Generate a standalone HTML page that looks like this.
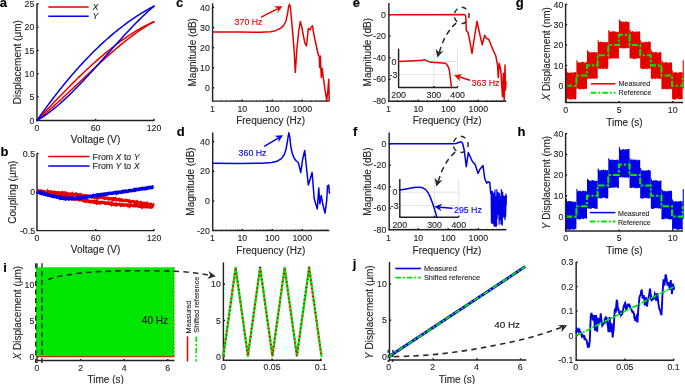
<!DOCTYPE html>
<html><head><meta charset="utf-8"><style>
html,body{margin:0;padding:0;background:#fff;width:685px;height:384px;overflow:hidden}
svg{display:block;font-family:"Liberation Sans",sans-serif;will-change:transform}
text{stroke:currentColor;stroke-width:0.12px}
</style></head><body>
<svg xmlns="http://www.w3.org/2000/svg" width="685" height="384" viewBox="0 0 685 384">
<rect width="685" height="384" fill="#fff"/>
<text x="-0.36" y="7.1" font-size="13" fill="#000" color="#000" font-weight="bold">a</text>
<line x1="37" y1="3.6" x2="37" y2="120.9" stroke="#222" stroke-width="1.45"/>
<line x1="36.5" y1="120.4" x2="154.5" y2="120.4" stroke="#222" stroke-width="1.45"/>
<line x1="37" y1="97.08" x2="38.6" y2="97.08" stroke="#222" stroke-width="1.45"/>
<line x1="37" y1="73.76" x2="38.6" y2="73.76" stroke="#222" stroke-width="1.45"/>
<line x1="37" y1="50.44" x2="38.6" y2="50.44" stroke="#222" stroke-width="1.45"/>
<line x1="37" y1="27.12" x2="38.6" y2="27.12" stroke="#222" stroke-width="1.45"/>
<line x1="37" y1="3.8" x2="38.6" y2="3.8" stroke="#222" stroke-width="1.45"/>
<line x1="95.6" y1="120.4" x2="95.6" y2="118.8" stroke="#222" stroke-width="1.45"/>
<line x1="154" y1="120.4" x2="154" y2="118.8" stroke="#222" stroke-width="1.45"/>
<text x="34.3" y="123.57" font-size="8.8" fill="#262626" color="#262626" text-anchor="end">0</text>
<text x="34.3" y="100.25" font-size="8.8" fill="#262626" color="#262626" text-anchor="end">5</text>
<text x="34.3" y="76.93" font-size="8.8" fill="#262626" color="#262626" text-anchor="end">10</text>
<text x="34.3" y="53.61" font-size="8.8" fill="#262626" color="#262626" text-anchor="end">15</text>
<text x="34.3" y="30.29" font-size="8.8" fill="#262626" color="#262626" text-anchor="end">20</text>
<text x="34.3" y="6.97" font-size="8.8" fill="#262626" color="#262626" text-anchor="end">25</text>
<text x="37" y="130.67" font-size="8.8" fill="#262626" color="#262626" text-anchor="middle">0</text>
<text x="95.6" y="130.67" font-size="8.8" fill="#262626" color="#262626" text-anchor="middle">60</text>
<text x="154" y="130.67" font-size="8.8" fill="#262626" color="#262626" text-anchor="middle">120</text>
<text x="95.6" y="142.6" font-size="10" fill="#262626" color="#262626" text-anchor="middle">Voltage (V)</text>
<text x="21" y="62.2" font-size="10" fill="#262626" color="#262626" text-anchor="middle" transform="rotate(-90 21 62.2)">Displacement (µm)</text>
<line x1="48.3" y1="7" x2="88.7" y2="7" stroke="#e50000" stroke-width="1.5"/>
<line x1="48.3" y1="16.2" x2="88.7" y2="16.2" stroke="#0000e6" stroke-width="1.5"/>
<text x="92.4" y="10" font-size="8.8" fill="#262626" color="#262626" font-style="italic">X</text>
<text x="92.4" y="19.2" font-size="8.8" fill="#262626" color="#262626" font-style="italic">Y</text>
<path d="M37 120.4 L38.46 118.83 L39.92 117.27 L41.39 115.71 L42.85 114.15 L44.31 112.59 L45.77 111.04 L47.24 109.49 L48.7 107.94 L50.16 106.39 L51.62 104.85 L53.09 103.32 L54.55 101.78 L56.01 100.26 L57.47 98.73 L58.94 97.22 L60.4 95.7 L61.86 94.2 L63.33 92.7 L64.79 91.2 L66.25 89.71 L67.71 88.23 L69.18 86.76 L70.64 85.29 L72.1 83.83 L73.56 82.38 L75.03 80.93 L76.49 79.5 L77.95 78.07 L79.41 76.65 L80.88 75.24 L82.34 73.84 L83.8 72.44 L85.26 71.06 L86.72 69.69 L88.19 68.33 L89.65 66.98 L91.11 65.64 L92.57 64.31 L94.04 62.99 L95.5 61.68 L96.96 60.38 L98.43 59.1 L99.89 57.83 L101.35 56.57 L102.81 55.32 L104.27 54.09 L105.74 52.87 L107.2 51.66 L108.66 50.47 L110.12 49.29 L111.59 48.13 L113.05 46.98 L114.51 45.84 L115.98 44.72 L117.44 43.62 L118.9 42.53 L120.36 41.46 L121.83 40.4 L123.29 39.36 L124.75 38.33 L126.21 37.33 L127.67 36.33 L129.14 35.36 L130.6 34.41 L132.06 33.47 L133.52 32.55 L134.99 31.65 L136.45 30.76 L137.91 29.9 L139.38 29.05 L140.84 28.23 L142.3 27.42 L143.76 26.64 L145.23 25.87 L146.69 25.12 L148.15 24.4 L149.61 23.69 L151.07 23.01 L152.54 22.35 L154 21.71" fill="none" stroke="#e50000" stroke-width="1.5" stroke-linejoin="round" stroke-linecap="round"/>
<path d="M37 120.4 L38.46 119.21 L39.92 118 L41.39 116.79 L42.85 115.56 L44.31 114.32 L45.77 113.07 L47.24 111.8 L48.7 110.53 L50.16 109.25 L51.62 107.96 L53.09 106.65 L54.55 105.34 L56.01 104.03 L57.47 102.7 L58.94 101.37 L60.4 100.03 L61.86 98.69 L63.33 97.33 L64.79 95.98 L66.25 94.62 L67.71 93.25 L69.18 91.88 L70.64 90.51 L72.1 89.13 L73.56 87.76 L75.03 86.38 L76.49 85 L77.95 83.61 L79.41 82.23 L80.88 80.85 L82.34 79.46 L83.8 78.08 L85.26 76.7 L86.72 75.32 L88.19 73.94 L89.65 72.57 L91.11 71.2 L92.57 69.83 L94.04 68.47 L95.5 67.11 L96.96 65.75 L98.43 64.4 L99.89 63.06 L101.35 61.72 L102.81 60.39 L104.27 59.07 L105.74 57.76 L107.2 56.45 L108.66 55.15 L110.12 53.86 L111.59 52.58 L113.05 51.31 L114.51 50.05 L115.98 48.8 L117.44 47.57 L118.9 46.34 L120.36 45.13 L121.83 43.93 L123.29 42.74 L124.75 41.57 L126.21 40.41 L127.67 39.27 L129.14 38.14 L130.6 37.03 L132.06 35.93 L133.52 34.85 L134.99 33.78 L136.45 32.74 L137.91 31.71 L139.38 30.7 L140.84 29.71 L142.3 28.74 L143.76 27.78 L145.23 26.85 L146.69 25.94 L148.15 25.05 L149.61 24.18 L151.07 23.34 L152.54 22.51 L154 21.71" fill="none" stroke="#e50000" stroke-width="1.5" stroke-linejoin="round" stroke-linecap="round"/>
<path d="M37 120.4 L38.46 118.31 L39.92 116.23 L41.39 114.18 L42.85 112.14 L44.31 110.11 L45.77 108.1 L47.24 106.11 L48.7 104.14 L50.16 102.18 L51.62 100.24 L53.09 98.32 L54.55 96.41 L56.01 94.52 L57.47 92.65 L58.94 90.79 L60.4 88.95 L61.86 87.13 L63.33 85.32 L64.79 83.54 L66.25 81.76 L67.71 80.01 L69.18 78.27 L70.64 76.55 L72.1 74.84 L73.56 73.15 L75.03 71.48 L76.49 69.83 L77.95 68.19 L79.41 66.57 L80.88 64.96 L82.34 63.37 L83.8 61.8 L85.26 60.25 L86.72 58.71 L88.19 57.19 L89.65 55.69 L91.11 54.2 L92.57 52.73 L94.04 51.28 L95.5 49.84 L96.96 48.42 L98.43 47.02 L99.89 45.63 L101.35 44.26 L102.81 42.91 L104.27 41.57 L105.74 40.25 L107.2 38.95 L108.66 37.66 L110.12 36.4 L111.59 35.14 L113.05 33.91 L114.51 32.69 L115.98 31.49 L117.44 30.3 L118.9 29.13 L120.36 27.98 L121.83 26.85 L123.29 25.73 L124.75 24.63 L126.21 23.54 L127.67 22.48 L129.14 21.43 L130.6 20.39 L132.06 19.38 L133.52 18.38 L134.99 17.39 L136.45 16.42 L137.91 15.47 L139.38 14.54 L140.84 13.62 L142.3 12.73 L143.76 11.84 L145.23 10.98 L146.69 10.13 L148.15 9.29 L149.61 8.48 L151.07 7.68 L152.54 6.9 L154 6.13" fill="none" stroke="#0000e6" stroke-width="1.5" stroke-linejoin="round" stroke-linecap="round"/>
<path d="M37 120.4 L38.46 119.55 L39.92 118.67 L41.39 117.76 L42.85 116.82 L44.31 115.84 L45.77 114.83 L47.24 113.79 L48.7 112.73 L50.16 111.63 L51.62 110.51 L53.09 109.35 L54.55 108.18 L56.01 106.97 L57.47 105.74 L58.94 104.49 L60.4 103.21 L61.86 101.91 L63.33 100.59 L64.79 99.25 L66.25 97.89 L67.71 96.5 L69.18 95.1 L70.64 93.68 L72.1 92.24 L73.56 90.78 L75.03 89.31 L76.49 87.82 L77.95 86.32 L79.41 84.8 L80.88 83.27 L82.34 81.73 L83.8 80.18 L85.26 78.61 L86.72 77.04 L88.19 75.45 L89.65 73.86 L91.11 72.26 L92.57 70.65 L94.04 69.03 L95.5 67.41 L96.96 65.78 L98.43 64.15 L99.89 62.51 L101.35 60.88 L102.81 59.24 L104.27 57.59 L105.74 55.95 L107.2 54.31 L108.66 52.67 L110.12 51.02 L111.59 49.39 L113.05 47.75 L114.51 46.12 L115.98 44.49 L117.44 42.87 L118.9 41.25 L120.36 39.64 L121.83 38.04 L123.29 36.45 L124.75 34.86 L126.21 33.28 L127.67 31.72 L129.14 30.16 L130.6 28.62 L132.06 27.09 L133.52 25.57 L134.99 24.07 L136.45 22.58 L137.91 21.11 L139.38 19.65 L140.84 18.21 L142.3 16.79 L143.76 15.38 L145.23 14 L146.69 12.63 L148.15 11.29 L149.61 9.97 L151.07 8.66 L152.54 7.39 L154 6.13" fill="none" stroke="#0000e6" stroke-width="1.5" stroke-linejoin="round" stroke-linecap="round"/>
<text x="0.6" y="155.5" font-size="13" fill="#000" color="#000" font-weight="bold">b</text>
<line x1="37" y1="153.2" x2="37" y2="231.1" stroke="#222" stroke-width="1.45"/>
<line x1="36.5" y1="230.6" x2="154.5" y2="230.6" stroke="#222" stroke-width="1.45"/>
<line x1="37" y1="153.35" x2="38.6" y2="153.35" stroke="#222" stroke-width="1.45"/>
<line x1="37" y1="192" x2="38.6" y2="192" stroke="#222" stroke-width="1.45"/>
<line x1="95.7" y1="230.6" x2="95.7" y2="229" stroke="#222" stroke-width="1.45"/>
<line x1="154" y1="230.6" x2="154" y2="229" stroke="#222" stroke-width="1.45"/>
<text x="35.1" y="156.52" font-size="8.8" fill="#262626" color="#262626" text-anchor="end">0.5</text>
<text x="35.1" y="195.17" font-size="8.8" fill="#262626" color="#262626" text-anchor="end">0</text>
<text x="35.1" y="233.82" font-size="8.8" fill="#262626" color="#262626" text-anchor="end">-0.5</text>
<text x="37" y="240.97" font-size="8.8" fill="#262626" color="#262626" text-anchor="middle">0</text>
<text x="95.7" y="240.97" font-size="8.8" fill="#262626" color="#262626" text-anchor="middle">60</text>
<text x="154" y="240.97" font-size="8.8" fill="#262626" color="#262626" text-anchor="middle">120</text>
<text x="95.6" y="252.6" font-size="10" fill="#262626" color="#262626" text-anchor="middle">Voltage (V)</text>
<text x="16.5" y="192.2" font-size="10" fill="#262626" color="#262626" text-anchor="middle" transform="rotate(-90 16.5 192.2)">Coupling (µm)</text>
<line x1="48.2" y1="156.6" x2="89.5" y2="156.6" stroke="#e50000" stroke-width="1.5"/>
<line x1="48.2" y1="166.1" x2="89.5" y2="166.1" stroke="#0000e6" stroke-width="1.5"/>
<text x="92.6" y="159.6" font-size="8.8" fill="#262626" color="#262626">From <tspan font-style="italic">X</tspan> to <tspan font-style="italic">Y</tspan></text>
<text x="92.6" y="169.1" font-size="8.8" fill="#262626" color="#262626">From <tspan font-style="italic">Y</tspan> to <tspan font-style="italic">X</tspan></text>
<path d="M37.2 191.12 L37.7 190.97 L38.2 191.55 L38.7 190.96 L39.2 191.5 L39.7 191.35 L40.2 191.05 L40.7 191.58 L41.2 191.1 L41.7 191.57 L42.2 191.21 L42.7 191.27 L43.2 191.68 L43.7 192.15 L44.2 191.42 L44.7 191.56 L45.2 192.05 L45.7 192.44 L46.2 192.06 L46.7 191.9 L47.2 192.58 L47.7 191.59 L48.2 192.52 L48.7 191.93 L49.2 191.81 L49.7 191.82 L50.2 192.06 L50.7 192.66 L51.2 192 L51.7 192.48 L52.2 192.58 L52.7 192.32 L53.2 192.55 L53.7 192.05 L54.2 192.09 L54.7 192.28 L55.2 192.84 L55.7 192.6 L56.2 192.51 L56.7 192.85 L57.2 192.74 L57.7 192.61 L58.2 193.19 L58.7 193.12 L59.2 192.66 L59.7 193.06 L60.2 193.05 L60.7 193.48 L61.2 193.37 L61.7 192.94 L62.2 193.75 L62.7 192.85 L63.2 193.23 L63.7 193.65 L64.2 193.04 L64.7 193.46 L65.2 193.01 L65.7 193.76 L66.2 193.91 L66.7 193.75 L67.2 194.13 L67.7 193.57 L68.2 194.03 L68.7 193.97 L69.2 194.01 L69.7 193.92 L70.2 194.39 L70.7 194.56 L71.2 194.09 L71.7 194.35 L72.2 193.74 L72.7 194.49 L73.2 194.48 L73.7 194.91 L74.2 194.77 L74.7 194.23 L75.2 194.4 L75.7 194.78 L76.2 194.13 L76.7 194.68 L77.2 194.43 L77.7 194.44 L78.2 194.44 L78.7 195.29 L79.2 194.65 L79.7 194.85 L80.2 195.07 L80.7 195.67 L81.2 194.87 L81.7 195.34 L82.2 195.51 L82.7 195.95 L83.2 195.94 L83.7 196.06 L84.2 195.48 L84.7 195.7 L85.2 195.7 L85.7 196.35 L86.2 196.5 L86.7 195.68 L87.2 195.77 L87.7 195.9 L88.2 195.97 L88.7 196.31 L89.2 196.49 L89.7 196.2 L90.2 195.98 L90.7 196.49 L91.2 196.49 L91.7 196.77 L92.2 197.25 L92.7 197.02 L93.2 196.88 L93.7 197.05 L94.2 197.17 L94.7 196.54 L95.2 197.53 L95.7 197.45 L96.2 197.61 L96.7 197.59 L97.2 197.2 L97.7 197.26 L98.2 196.99 L98.7 197.63 L99.2 197.06 L99.7 197.12 L100.2 197.34 L100.7 197.34 L101.2 197.59 L101.7 197.33 L102.2 197.33 L102.7 197.56 L103.2 197.56 L103.7 197.9 L104.2 197.59 L104.7 198.58 L105.2 198.35 L105.7 197.89 L106.2 198.06 L106.7 198.21 L107.2 198.29 L107.7 198.07 L108.2 198.93 L108.7 199.14 L109.2 198.61 L109.7 198.68 L110.2 198.3 L110.7 198.37 L111.2 198.69 L111.7 198.66 L112.2 199.33 L112.7 198.65 L113.2 198.55 L113.7 199.62 L114.2 199.21 L114.7 198.85 L115.2 199.34 L115.7 198.82 L116.2 199.43 L116.7 199.97 L117.2 199.9 L117.7 199.77 L118.2 199.35 L118.7 199.51 L119.2 199.35 L119.7 200.07 L120.2 199.87 L120.7 200.21 L121.2 199.79 L121.7 199.75 L122.2 200.47 L122.7 200.73 L123.2 200.66 L123.7 200.68 L124.2 200.77 L124.7 200.76 L125.2 200.26 L125.7 200.66 L126.2 200.55 L126.7 200.27 L127.2 200.34 L127.7 200.69 L128.2 200.74 L128.7 201.29 L129.2 201.66 L129.7 201.17 L130.2 201.78 L130.7 201.91 L131.2 201.95 L131.7 201.37 L132.2 201.29 L132.7 201.37 L133.2 201.41 L133.7 201.49 L134.2 202.02 L134.7 202.4 L135.2 202.41 L135.7 202.09 L136.2 202.35 L136.7 202.59 L137.2 201.88 L137.7 202.6 L138.2 202.96 L138.7 202.9 L139.2 202.95 L139.7 202.74 L140.2 202.49 L140.7 203.25 L141.2 202.83 L141.7 203.43 L142.2 203.71 L142.7 203.16 L143.2 203.25 L143.7 203.93 L144.2 203.78 L144.7 203.25 L145.2 203.29 L145.7 203.4 L146.2 204.31 L146.7 204.29 L147.2 203.65 L147.7 204.48 L148.2 204.74 L148.7 204.47 L149.2 204.22 L149.7 204.52 L150.2 204.15 L150.7 204.1 L151.2 205.24 L151.7 204.97 L152.2 204.92 L152.7 205.46 L153.2 204.99 L153.7 205.56" fill="none" stroke="#e50000" stroke-width="3" stroke-linejoin="miter" stroke-linecap="butt"/>
<path d="M37.2 192.88 L37.7 192.26 L38.2 192.37 L38.7 192.47 L39.2 192.47 L39.7 192.91 L40.2 192.6 L40.7 192.84 L41.2 192.58 L41.7 193.49 L42.2 192.94 L42.7 193.11 L43.2 193.31 L43.7 193.72 L44.2 193.24 L44.7 193.85 L45.2 193.45 L45.7 193.54 L46.2 193.59 L46.7 193.09 L47.2 193.61 L47.7 193.39 L48.2 193.25 L48.7 194.18 L49.2 193.55 L49.7 193.94 L50.2 194.28 L50.7 194.17 L51.2 193.99 L51.7 194.28 L52.2 194.39 L52.7 194.72 L53.2 194.05 L53.7 194.62 L54.2 194.35 L54.7 194.46 L55.2 195.08 L55.7 194.86 L56.2 195 L56.7 195.29 L57.2 195.53 L57.7 195.09 L58.2 195.35 L58.7 195.31 L59.2 195.39 L59.7 195.67 L60.2 195.49 L60.7 195.69 L61.2 195.74 L61.7 196.36 L62.2 196.2 L62.7 196.51 L63.2 196.69 L63.7 196.05 L64.2 196.49 L64.7 197.02 L65.2 197.02 L65.7 196.35 L66.2 196.45 L66.7 196.91 L67.2 196.61 L67.7 196.91 L68.2 196.83 L68.7 197.6 L69.2 197.84 L69.7 198.07 L70.2 197.36 L70.7 198.09 L71.2 198.14 L71.7 197.68 L72.2 198.61 L72.7 198.81 L73.2 198.1 L73.7 199.01 L74.2 198.51 L74.7 198.72 L75.2 199.37 L75.7 199.29 L76.2 198.64 L76.7 199.02 L77.2 199.2 L77.7 199.09 L78.2 199.02 L78.7 199.24 L79.2 199.77 L79.7 199.09 L80.2 199.76 L80.7 199.72 L81.2 199.34 L81.7 199.78 L82.2 200.18 L82.7 200.15 L83.2 199.74 L83.7 200.84 L84.2 200.71 L84.7 201 L85.2 200.13 L85.7 200.4 L86.2 200.23 L86.7 201.13 L87.2 200.66 L87.7 200.59 L88.2 201 L88.7 201.63 L89.2 201.61 L89.7 201.08 L90.2 201.04 L90.7 201.94 L91.2 201.61 L91.7 201.81 L92.2 201.2 L92.7 201.22 L93.2 201.97 L93.7 201.74 L94.2 201.41 L94.7 202.41 L95.2 202.14 L95.7 202.38 L96.2 201.64 L96.7 202.55 L97.2 201.74 L97.7 202.67 L98.2 202.28 L98.7 202.21 L99.2 202.5 L99.7 202.97 L100.2 202.3 L100.7 202.2 L101.2 202.7 L101.7 202.44 L102.2 202.35 L102.7 202.47 L103.2 202.4 L103.7 202.62 L104.2 202.8 L104.7 202.85 L105.2 203.41 L105.7 202.95 L106.2 203.24 L106.7 202.94 L107.2 203.18 L107.7 202.88 L108.2 203.19 L108.7 202.99 L109.2 203.83 L109.7 203.69 L110.2 203.35 L110.7 203.72 L111.2 204.28 L111.7 203.43 L112.2 204.27 L112.7 203.9 L113.2 204.02 L113.7 204.45 L114.2 204.03 L114.7 204.21 L115.2 204.46 L115.7 204.84 L116.2 204.2 L116.7 204.79 L117.2 204.71 L117.7 204.69 L118.2 204.49 L118.7 204.48 L119.2 204.22 L119.7 204.36 L120.2 204.34 L120.7 205.11 L121.2 204.62 L121.7 204.55 L122.2 204.5 L122.7 205.37 L123.2 205.43 L123.7 205.25 L124.2 204.86 L124.7 204.85 L125.2 204.94 L125.7 205.16 L126.2 204.86 L126.7 205.21 L127.2 205.05 L127.7 205.85 L128.2 205.9 L128.7 205.47 L129.2 205.17 L129.7 206 L130.2 205.31 L130.7 205.4 L131.2 205.04 L131.7 205.5 L132.2 205.63 L132.7 205.7 L133.2 205.4 L133.7 205.77 L134.2 205.26 L134.7 205.58 L135.2 205.42 L135.7 205.8 L136.2 205.44 L136.7 205.45 L137.2 205.8 L137.7 205.75 L138.2 206.16 L138.7 206.13 L139.2 206.41 L139.7 206.33 L140.2 206.43 L140.7 206.63 L141.2 206.13 L141.7 206.09 L142.2 206.84 L142.7 205.95 L143.2 206.61 L143.7 206.55 L144.2 205.92 L144.7 206.82 L145.2 206.91 L145.7 206.65 L146.2 206.8 L146.7 206.91 L147.2 206.2 L147.7 206.66 L148.2 206.66 L148.7 207.06 L149.2 207.05 L149.7 207.11 L150.2 206.87 L150.7 207.24 L151.2 207.04 L151.7 207.08 L152.2 206.6 L152.7 206.41 L153.2 206.55 L153.7 206.83" fill="none" stroke="#e50000" stroke-width="3" stroke-linejoin="miter" stroke-linecap="butt"/>
<path d="M37.2 191.58 L37.7 192.24 L38.2 192.18 L38.7 192.38 L39.2 192.52 L39.7 192.7 L40.2 192.71 L40.7 192.51 L41.2 193.21 L41.7 193.32 L42.2 193.29 L42.7 193.45 L43.2 193.68 L43.7 193.41 L44.2 194.02 L44.7 193.82 L45.2 193.84 L45.7 194.12 L46.2 194.58 L46.7 194.36 L47.2 194.87 L47.7 195.18 L48.2 194.99 L48.7 195.05 L49.2 195.26 L49.7 195.54 L50.2 195.73 L50.7 195.74 L51.2 195.88 L51.7 195.6 L52.2 195.76 L52.7 195.95 L53.2 196.41 L53.7 196.21 L54.2 196.51 L54.7 196.24 L55.2 196.39 L55.7 196.65 L56.2 197.05 L56.7 197.18 L57.2 197.28 L57.7 197.12 L58.2 197.4 L58.7 197.48 L59.2 197.59 L59.7 197.46 L60.2 198.1 L60.7 197.67 L61.2 198.27 L61.7 198.3 L62.2 197.71 L62.7 198.08 L63.2 198.39 L63.7 198.55 L64.2 198.24 L64.7 198.18 L65.2 198.19 L65.7 198.76 L66.2 198.31 L66.7 198.62 L67.2 198.34 L67.7 198.6 L68.2 198.89 L68.7 198.3 L69.2 198.77 L69.7 198.54 L70.2 198.79 L70.7 198.65 L71.2 198.31 L71.7 198.76 L72.2 198.46 L72.7 198.12 L73.2 198.1 L73.7 198.43 L74.2 198.39 L74.7 198.27 L75.2 198.13 L75.7 198.22 L76.2 198.15 L76.7 198.47 L77.2 197.83 L77.7 198.31 L78.2 198.32 L78.7 197.76 L79.2 198.28 L79.7 198.08 L80.2 198.16 L80.7 197.68 L81.2 197.69 L81.7 197.66 L82.2 198.02 L82.7 197.65 L83.2 197.41 L83.7 197.37 L84.2 197.19 L84.7 196.95 L85.2 196.9 L85.7 197.33 L86.2 196.87 L86.7 197.24 L87.2 196.68 L87.7 196.61 L88.2 196.7 L88.7 196.39 L89.2 196.44 L89.7 196.77 L90.2 196.64 L90.7 196.52 L91.2 196.32 L91.7 196.44 L92.2 196.39 L92.7 196.04 L93.2 196.08 L93.7 195.54 L94.2 195.95 L94.7 195.68 L95.2 195.81 L95.7 195.67 L96.2 195.34 L96.7 195.1 L97.2 195.64 L97.7 195.01 L98.2 195.18 L98.7 195.01 L99.2 194.91 L99.7 195.14 L100.2 195.24 L100.7 194.66 L101.2 194.87 L101.7 194.54 L102.2 194.65 L102.7 194.46 L103.2 194.23 L103.7 194.15 L104.2 194.11 L104.7 194.53 L105.2 194.17 L105.7 193.91 L106.2 194.32 L106.7 194.32 L107.2 193.87 L107.7 193.59 L108.2 193.56 L108.7 193.42 L109.2 193.53 L109.7 193.29 L110.2 193.32 L110.7 193.27 L111.2 193.42 L111.7 193.58 L112.2 193.41 L112.7 193.11 L113.2 193.05 L113.7 193.06 L114.2 192.89 L114.7 192.79 L115.2 192.53 L115.7 192.62 L116.2 193.03 L116.7 192.38 L117.2 192.58 L117.7 192.6 L118.2 192.69 L118.7 192.17 L119.2 192.15 L119.7 192.06 L120.2 192.1 L120.7 192.06 L121.2 192.33 L121.7 192.18 L122.2 192.12 L122.7 191.45 L123.2 191.38 L123.7 191.78 L124.2 191.83 L124.7 191.46 L125.2 191.47 L125.7 190.98 L126.2 191.18 L126.7 191.47 L127.2 191.33 L127.7 191.27 L128.2 191.28 L128.7 190.69 L129.2 190.52 L129.7 190.47 L130.2 190.66 L130.7 190.69 L131.2 190.8 L131.7 190.57 L132.2 190.44 L132.7 190.44 L133.2 190.15 L133.7 190.14 L134.2 189.71 L134.7 190.15 L135.2 189.69 L135.7 190.09 L136.2 189.82 L136.7 189.51 L137.2 189.31 L137.7 189.32 L138.2 189.51 L138.7 189.48 L139.2 188.99 L139.7 188.89 L140.2 189.13 L140.7 189.09 L141.2 188.88 L141.7 188.69 L142.2 188.88 L142.7 188.39 L143.2 188.51 L143.7 188.55 L144.2 188.82 L144.7 188.52 L145.2 188.61 L145.7 188.25 L146.2 188.01 L146.7 187.94 L147.2 188.36 L147.7 188.11 L148.2 187.75 L148.7 187.48 L149.2 187.73 L149.7 187.78 L150.2 187.53 L150.7 187.33 L151.2 187.55 L151.7 187.65 L152.2 187.08 L152.7 186.87 L153.2 187.01 L153.7 186.99" fill="none" stroke="#0000e6" stroke-width="3.4" stroke-linejoin="miter" stroke-linecap="butt"/>
<text x="176.1" y="7.2" font-size="13" fill="#000" color="#000" font-weight="bold">c</text>
<line x1="212.6" y1="3.3" x2="212.6" y2="101.6" stroke="#222" stroke-width="1.45"/>
<line x1="212.1" y1="101.1" x2="329.4" y2="101.1" stroke="#222" stroke-width="1.45"/>
<line x1="212.6" y1="87.8" x2="214.2" y2="87.8" stroke="#222" stroke-width="1.45"/>
<line x1="212.6" y1="67.7" x2="214.2" y2="67.7" stroke="#222" stroke-width="1.45"/>
<line x1="212.6" y1="47.6" x2="214.2" y2="47.6" stroke="#222" stroke-width="1.45"/>
<line x1="212.6" y1="27.5" x2="214.2" y2="27.5" stroke="#222" stroke-width="1.45"/>
<line x1="212.6" y1="7.4" x2="214.2" y2="7.4" stroke="#222" stroke-width="1.45"/>
<line x1="242.35" y1="101.1" x2="242.35" y2="99.5" stroke="#222" stroke-width="1.45"/>
<line x1="272.3" y1="101.1" x2="272.3" y2="99.5" stroke="#222" stroke-width="1.45"/>
<line x1="302.25" y1="101.1" x2="302.25" y2="99.5" stroke="#222" stroke-width="1.45"/>
<line x1="221.42" y1="101.2" x2="221.42" y2="100.2" stroke="#222" stroke-width="0.8"/>
<line x1="226.69" y1="101.2" x2="226.69" y2="100.2" stroke="#222" stroke-width="0.8"/>
<line x1="230.43" y1="101.2" x2="230.43" y2="100.2" stroke="#222" stroke-width="0.8"/>
<line x1="233.33" y1="101.2" x2="233.33" y2="100.2" stroke="#222" stroke-width="0.8"/>
<line x1="235.71" y1="101.2" x2="235.71" y2="100.2" stroke="#222" stroke-width="0.8"/>
<line x1="237.71" y1="101.2" x2="237.71" y2="100.2" stroke="#222" stroke-width="0.8"/>
<line x1="239.45" y1="101.2" x2="239.45" y2="100.2" stroke="#222" stroke-width="0.8"/>
<line x1="240.98" y1="101.2" x2="240.98" y2="100.2" stroke="#222" stroke-width="0.8"/>
<line x1="251.37" y1="101.2" x2="251.37" y2="100.2" stroke="#222" stroke-width="0.8"/>
<line x1="256.64" y1="101.2" x2="256.64" y2="100.2" stroke="#222" stroke-width="0.8"/>
<line x1="260.38" y1="101.2" x2="260.38" y2="100.2" stroke="#222" stroke-width="0.8"/>
<line x1="263.28" y1="101.2" x2="263.28" y2="100.2" stroke="#222" stroke-width="0.8"/>
<line x1="265.66" y1="101.2" x2="265.66" y2="100.2" stroke="#222" stroke-width="0.8"/>
<line x1="267.66" y1="101.2" x2="267.66" y2="100.2" stroke="#222" stroke-width="0.8"/>
<line x1="269.4" y1="101.2" x2="269.4" y2="100.2" stroke="#222" stroke-width="0.8"/>
<line x1="270.93" y1="101.2" x2="270.93" y2="100.2" stroke="#222" stroke-width="0.8"/>
<line x1="281.32" y1="101.2" x2="281.32" y2="100.2" stroke="#222" stroke-width="0.8"/>
<line x1="286.59" y1="101.2" x2="286.59" y2="100.2" stroke="#222" stroke-width="0.8"/>
<line x1="290.33" y1="101.2" x2="290.33" y2="100.2" stroke="#222" stroke-width="0.8"/>
<line x1="293.23" y1="101.2" x2="293.23" y2="100.2" stroke="#222" stroke-width="0.8"/>
<line x1="295.61" y1="101.2" x2="295.61" y2="100.2" stroke="#222" stroke-width="0.8"/>
<line x1="297.61" y1="101.2" x2="297.61" y2="100.2" stroke="#222" stroke-width="0.8"/>
<line x1="299.35" y1="101.2" x2="299.35" y2="100.2" stroke="#222" stroke-width="0.8"/>
<line x1="300.88" y1="101.2" x2="300.88" y2="100.2" stroke="#222" stroke-width="0.8"/>
<line x1="311.27" y1="101.2" x2="311.27" y2="100.2" stroke="#222" stroke-width="0.8"/>
<line x1="316.54" y1="101.2" x2="316.54" y2="100.2" stroke="#222" stroke-width="0.8"/>
<line x1="320.28" y1="101.2" x2="320.28" y2="100.2" stroke="#222" stroke-width="0.8"/>
<line x1="323.18" y1="101.2" x2="323.18" y2="100.2" stroke="#222" stroke-width="0.8"/>
<line x1="325.56" y1="101.2" x2="325.56" y2="100.2" stroke="#222" stroke-width="0.8"/>
<line x1="327.56" y1="101.2" x2="327.56" y2="100.2" stroke="#222" stroke-width="0.8"/>
<text x="209.8" y="90.97" font-size="8.8" fill="#262626" color="#262626" text-anchor="end">0</text>
<text x="209.8" y="70.87" font-size="8.8" fill="#262626" color="#262626" text-anchor="end">10</text>
<text x="209.8" y="50.77" font-size="8.8" fill="#262626" color="#262626" text-anchor="end">20</text>
<text x="209.8" y="30.67" font-size="8.8" fill="#262626" color="#262626" text-anchor="end">30</text>
<text x="209.8" y="10.57" font-size="8.8" fill="#262626" color="#262626" text-anchor="end">40</text>
<text x="212.4" y="111.87" font-size="8.8" fill="#262626" color="#262626" text-anchor="middle">1</text>
<text x="242.35" y="111.87" font-size="8.8" fill="#262626" color="#262626" text-anchor="middle">10</text>
<text x="272.3" y="111.87" font-size="8.8" fill="#262626" color="#262626" text-anchor="middle">100</text>
<text x="302.25" y="111.87" font-size="8.8" fill="#262626" color="#262626" text-anchor="middle">1000</text>
<text x="270.6" y="123.6" font-size="10" fill="#262626" color="#262626" text-anchor="middle">Frequency (Hz)</text>
<text x="196.5" y="52.3" font-size="10" fill="#262626" color="#262626" text-anchor="middle" transform="rotate(-90 196.5 52.3)">Magnitude (dB)</text>
<path d="M212.7 32 L240 32.1 L260 32.3 L270.4 31.8 L275.6 30.7 L280.8 28.1 L284 25 L286 20.8 L287.6 13.5 L288.6 6.5 L289.5 4.3 L290.4 7.5 L291.25 16.7 L292.3 28.1 L293.3 40 L294.4 55 L295.3 72.5 L296.8 50 L298.6 32 L300.3 21.5 L302 28 L303.6 37 L305 43.3 L306.5 46 L308.3 28.5 L310 30 L311.3 27 L312.5 25.8 L313.6 33 L315 40 L317.2 50 L318.5 55.5 L319.2 56 L319.7 67.5 L320.3 56 L321.3 77.5 L322.2 68.3 L323.5 79 L325 90 L326.7 100.5 L327.8 91 L328.8 79.2 L329.2 100.5" fill="none" stroke="#e50000" stroke-width="1.5" stroke-linejoin="round" stroke-linecap="round"/>
<path d="M266 14.7 L277.87 8.59" stroke="#e50000" stroke-width="1.5" fill="none"/>
<path d="M282.4 6.25 L277.47 13.06 L277.87 8.59 L273.99 6.31 Z" fill="#e50000"/>
<path d="M266 14.7 L261 17.3" stroke="#e50000" stroke-width="1.5"/>
<text x="234.6" y="25" font-size="8.8" fill="#e50000" color="#e50000">370 Hz</text>
<text x="176.7" y="136.1" font-size="13" fill="#000" color="#000" font-weight="bold">d</text>
<line x1="212.7" y1="132.5" x2="212.7" y2="231" stroke="#222" stroke-width="1.45"/>
<line x1="212.2" y1="230.5" x2="329.4" y2="230.5" stroke="#222" stroke-width="1.45"/>
<line x1="212.7" y1="201" x2="214.3" y2="201" stroke="#222" stroke-width="1.45"/>
<line x1="212.7" y1="171.25" x2="214.3" y2="171.25" stroke="#222" stroke-width="1.45"/>
<line x1="212.7" y1="141.5" x2="214.3" y2="141.5" stroke="#222" stroke-width="1.45"/>
<line x1="242.35" y1="230.5" x2="242.35" y2="228.9" stroke="#222" stroke-width="1.45"/>
<line x1="272.3" y1="230.5" x2="272.3" y2="228.9" stroke="#222" stroke-width="1.45"/>
<line x1="302.25" y1="230.5" x2="302.25" y2="228.9" stroke="#222" stroke-width="1.45"/>
<line x1="221.42" y1="230.5" x2="221.42" y2="229.5" stroke="#222" stroke-width="0.8"/>
<line x1="226.69" y1="230.5" x2="226.69" y2="229.5" stroke="#222" stroke-width="0.8"/>
<line x1="230.43" y1="230.5" x2="230.43" y2="229.5" stroke="#222" stroke-width="0.8"/>
<line x1="233.33" y1="230.5" x2="233.33" y2="229.5" stroke="#222" stroke-width="0.8"/>
<line x1="235.71" y1="230.5" x2="235.71" y2="229.5" stroke="#222" stroke-width="0.8"/>
<line x1="237.71" y1="230.5" x2="237.71" y2="229.5" stroke="#222" stroke-width="0.8"/>
<line x1="239.45" y1="230.5" x2="239.45" y2="229.5" stroke="#222" stroke-width="0.8"/>
<line x1="240.98" y1="230.5" x2="240.98" y2="229.5" stroke="#222" stroke-width="0.8"/>
<line x1="251.37" y1="230.5" x2="251.37" y2="229.5" stroke="#222" stroke-width="0.8"/>
<line x1="256.64" y1="230.5" x2="256.64" y2="229.5" stroke="#222" stroke-width="0.8"/>
<line x1="260.38" y1="230.5" x2="260.38" y2="229.5" stroke="#222" stroke-width="0.8"/>
<line x1="263.28" y1="230.5" x2="263.28" y2="229.5" stroke="#222" stroke-width="0.8"/>
<line x1="265.66" y1="230.5" x2="265.66" y2="229.5" stroke="#222" stroke-width="0.8"/>
<line x1="267.66" y1="230.5" x2="267.66" y2="229.5" stroke="#222" stroke-width="0.8"/>
<line x1="269.4" y1="230.5" x2="269.4" y2="229.5" stroke="#222" stroke-width="0.8"/>
<line x1="270.93" y1="230.5" x2="270.93" y2="229.5" stroke="#222" stroke-width="0.8"/>
<line x1="281.32" y1="230.5" x2="281.32" y2="229.5" stroke="#222" stroke-width="0.8"/>
<line x1="286.59" y1="230.5" x2="286.59" y2="229.5" stroke="#222" stroke-width="0.8"/>
<line x1="290.33" y1="230.5" x2="290.33" y2="229.5" stroke="#222" stroke-width="0.8"/>
<line x1="293.23" y1="230.5" x2="293.23" y2="229.5" stroke="#222" stroke-width="0.8"/>
<line x1="295.61" y1="230.5" x2="295.61" y2="229.5" stroke="#222" stroke-width="0.8"/>
<line x1="297.61" y1="230.5" x2="297.61" y2="229.5" stroke="#222" stroke-width="0.8"/>
<line x1="299.35" y1="230.5" x2="299.35" y2="229.5" stroke="#222" stroke-width="0.8"/>
<line x1="300.88" y1="230.5" x2="300.88" y2="229.5" stroke="#222" stroke-width="0.8"/>
<line x1="311.27" y1="230.5" x2="311.27" y2="229.5" stroke="#222" stroke-width="0.8"/>
<line x1="316.54" y1="230.5" x2="316.54" y2="229.5" stroke="#222" stroke-width="0.8"/>
<line x1="320.28" y1="230.5" x2="320.28" y2="229.5" stroke="#222" stroke-width="0.8"/>
<line x1="323.18" y1="230.5" x2="323.18" y2="229.5" stroke="#222" stroke-width="0.8"/>
<line x1="325.56" y1="230.5" x2="325.56" y2="229.5" stroke="#222" stroke-width="0.8"/>
<line x1="327.56" y1="230.5" x2="327.56" y2="229.5" stroke="#222" stroke-width="0.8"/>
<text x="209.8" y="233.92" font-size="8.8" fill="#262626" color="#262626" text-anchor="end">-20</text>
<text x="209.8" y="204.17" font-size="8.8" fill="#262626" color="#262626" text-anchor="end">0</text>
<text x="209.8" y="174.42" font-size="8.8" fill="#262626" color="#262626" text-anchor="end">20</text>
<text x="209.8" y="144.67" font-size="8.8" fill="#262626" color="#262626" text-anchor="end">40</text>
<text x="212.4" y="240.77" font-size="8.8" fill="#262626" color="#262626" text-anchor="middle">1</text>
<text x="242.35" y="240.77" font-size="8.8" fill="#262626" color="#262626" text-anchor="middle">10</text>
<text x="272.3" y="240.77" font-size="8.8" fill="#262626" color="#262626" text-anchor="middle">100</text>
<text x="302.25" y="240.77" font-size="8.8" fill="#262626" color="#262626" text-anchor="middle">1000</text>
<text x="270.8" y="254" font-size="10" fill="#262626" color="#262626" text-anchor="middle">Frequency (Hz)</text>
<text x="193.7" y="181.5" font-size="10" fill="#262626" color="#262626" text-anchor="middle" transform="rotate(-90 193.7 181.5)">Magnitude (dB)</text>
<path d="M212.7 163.3 L240 163.4 L262 163.3 L271.7 162.6 L277 161.3 L281.7 158.3 L284.3 154.5 L285.8 150 L287 144 L288 137.5 L288.8 132.8 L289.8 137 L290.8 146.7 L292.3 153.5 L294.2 158.3 L296.3 161 L298.3 162.5 L300.8 172.5 L302.5 160 L304.7 150.5 L306.5 168 L308.3 185 L310.5 178 L312.1 172.5 L314.2 198.5 L315.5 203 L317.3 209 L318.75 188 L319.8 203.75 L321.25 195.4 L322.9 204.8 L325 213.1 L326.7 200.6 L327.5 186 L328.75 185 L329.4 193.3" fill="none" stroke="#0000e6" stroke-width="1.5" stroke-linejoin="round" stroke-linecap="round"/>
<path d="M264.2 146.3 L278.6 137.88" stroke="#0000e6" stroke-width="1.5" fill="none"/>
<path d="M283 135.3 L278.45 142.37 L278.6 137.88 L274.61 135.81 Z" fill="#0000e6"/>
<text x="238.6" y="156" font-size="8.8" fill="#0000e6" color="#0000e6">360 Hz</text>
<text x="352.7" y="7.2" font-size="13" fill="#000" color="#000" font-weight="bold">e</text>
<line x1="388.9" y1="3" x2="388.9" y2="101.7" stroke="#222" stroke-width="1.45"/>
<line x1="388.4" y1="101.2" x2="506.2" y2="101.2" stroke="#222" stroke-width="1.45"/>
<line x1="388.9" y1="14.7" x2="390.5" y2="14.7" stroke="#222" stroke-width="1.45"/>
<line x1="388.9" y1="36.23" x2="390.5" y2="36.23" stroke="#222" stroke-width="1.45"/>
<line x1="388.9" y1="57.75" x2="390.5" y2="57.75" stroke="#222" stroke-width="1.45"/>
<line x1="388.9" y1="79.28" x2="390.5" y2="79.28" stroke="#222" stroke-width="1.45"/>
<line x1="418.37" y1="101.2" x2="418.37" y2="99.6" stroke="#222" stroke-width="1.45"/>
<line x1="448.34" y1="101.2" x2="448.34" y2="99.6" stroke="#222" stroke-width="1.45"/>
<line x1="478.31" y1="101.2" x2="478.31" y2="99.6" stroke="#222" stroke-width="1.45"/>
<line x1="397.42" y1="101.2" x2="397.42" y2="100.2" stroke="#222" stroke-width="0.8"/>
<line x1="402.7" y1="101.2" x2="402.7" y2="100.2" stroke="#222" stroke-width="0.8"/>
<line x1="406.44" y1="101.2" x2="406.44" y2="100.2" stroke="#222" stroke-width="0.8"/>
<line x1="409.35" y1="101.2" x2="409.35" y2="100.2" stroke="#222" stroke-width="0.8"/>
<line x1="411.72" y1="101.2" x2="411.72" y2="100.2" stroke="#222" stroke-width="0.8"/>
<line x1="413.73" y1="101.2" x2="413.73" y2="100.2" stroke="#222" stroke-width="0.8"/>
<line x1="415.47" y1="101.2" x2="415.47" y2="100.2" stroke="#222" stroke-width="0.8"/>
<line x1="417" y1="101.2" x2="417" y2="100.2" stroke="#222" stroke-width="0.8"/>
<line x1="427.39" y1="101.2" x2="427.39" y2="100.2" stroke="#222" stroke-width="0.8"/>
<line x1="432.67" y1="101.2" x2="432.67" y2="100.2" stroke="#222" stroke-width="0.8"/>
<line x1="436.41" y1="101.2" x2="436.41" y2="100.2" stroke="#222" stroke-width="0.8"/>
<line x1="439.32" y1="101.2" x2="439.32" y2="100.2" stroke="#222" stroke-width="0.8"/>
<line x1="441.69" y1="101.2" x2="441.69" y2="100.2" stroke="#222" stroke-width="0.8"/>
<line x1="443.7" y1="101.2" x2="443.7" y2="100.2" stroke="#222" stroke-width="0.8"/>
<line x1="445.44" y1="101.2" x2="445.44" y2="100.2" stroke="#222" stroke-width="0.8"/>
<line x1="446.97" y1="101.2" x2="446.97" y2="100.2" stroke="#222" stroke-width="0.8"/>
<line x1="457.36" y1="101.2" x2="457.36" y2="100.2" stroke="#222" stroke-width="0.8"/>
<line x1="462.64" y1="101.2" x2="462.64" y2="100.2" stroke="#222" stroke-width="0.8"/>
<line x1="466.38" y1="101.2" x2="466.38" y2="100.2" stroke="#222" stroke-width="0.8"/>
<line x1="469.29" y1="101.2" x2="469.29" y2="100.2" stroke="#222" stroke-width="0.8"/>
<line x1="471.66" y1="101.2" x2="471.66" y2="100.2" stroke="#222" stroke-width="0.8"/>
<line x1="473.67" y1="101.2" x2="473.67" y2="100.2" stroke="#222" stroke-width="0.8"/>
<line x1="475.41" y1="101.2" x2="475.41" y2="100.2" stroke="#222" stroke-width="0.8"/>
<line x1="476.94" y1="101.2" x2="476.94" y2="100.2" stroke="#222" stroke-width="0.8"/>
<line x1="487.33" y1="101.2" x2="487.33" y2="100.2" stroke="#222" stroke-width="0.8"/>
<line x1="492.61" y1="101.2" x2="492.61" y2="100.2" stroke="#222" stroke-width="0.8"/>
<line x1="496.35" y1="101.2" x2="496.35" y2="100.2" stroke="#222" stroke-width="0.8"/>
<line x1="499.26" y1="101.2" x2="499.26" y2="100.2" stroke="#222" stroke-width="0.8"/>
<line x1="501.63" y1="101.2" x2="501.63" y2="100.2" stroke="#222" stroke-width="0.8"/>
<line x1="503.64" y1="101.2" x2="503.64" y2="100.2" stroke="#222" stroke-width="0.8"/>
<line x1="505.38" y1="101.2" x2="505.38" y2="100.2" stroke="#222" stroke-width="0.8"/>
<text x="386" y="17.87" font-size="8.8" fill="#262626" color="#262626" text-anchor="end">0</text>
<text x="386" y="39.39" font-size="8.8" fill="#262626" color="#262626" text-anchor="end">-20</text>
<text x="386" y="60.92" font-size="8.8" fill="#262626" color="#262626" text-anchor="end">-40</text>
<text x="386" y="82.45" font-size="8.8" fill="#262626" color="#262626" text-anchor="end">-60</text>
<text x="386" y="103.97" font-size="8.8" fill="#262626" color="#262626" text-anchor="end">-80</text>
<text x="388.4" y="111.87" font-size="8.8" fill="#262626" color="#262626" text-anchor="middle">1</text>
<text x="418.37" y="111.87" font-size="8.8" fill="#262626" color="#262626" text-anchor="middle">10</text>
<text x="448.34" y="111.87" font-size="8.8" fill="#262626" color="#262626" text-anchor="middle">100</text>
<text x="478.31" y="111.87" font-size="8.8" fill="#262626" color="#262626" text-anchor="middle">1000</text>
<text x="447.2" y="123.6" font-size="10" fill="#262626" color="#262626" text-anchor="middle">Frequency (Hz)</text>
<text x="370.9" y="52.2" font-size="10" fill="#262626" color="#262626" text-anchor="middle" transform="rotate(-90 370.9 52.2)">Magnitude (dB)</text>
<path d="M388.8 14.7 L430 14.7 L464.2 14.6 L465.3 15.2 L465.8 17 L466.3 30.8 L468 32.5 L470 42 L472 53.3 L474.5 37 L477 21.3 L479.5 33 L482.2 44.7 L484.7 35.3 L486.7 38.3 L488.8 39.5 L491 45 L493.5 51 L495.8 55.8 L497.5 65 L498.3 77.5 L499.2 63.3 L500.8 70 L501.6 84 L502.5 96.7 L503.3 73.3 L504.2 100 L505 65 L505.5 90 L506 82" fill="none" stroke="#e50000" stroke-width="1.5" stroke-linejoin="round" stroke-linecap="round"/>
<g stroke="#e3e3e3" stroke-width="0.9">
<line x1="433.9" y1="48.6" x2="433.9" y2="87.5" stroke="#e0e0e0" stroke-width="0.9"/>
<line x1="457.6" y1="48.6" x2="457.6" y2="87.5" stroke="#e0e0e0" stroke-width="0.9"/>
<line x1="398.6" y1="61.5" x2="457.6" y2="61.5" stroke="#e0e0e0" stroke-width="0.9"/>
<line x1="398.6" y1="74.6" x2="457.6" y2="74.6" stroke="#e0e0e0" stroke-width="0.9"/>
</g>
<line x1="398.6" y1="48.6" x2="398.6" y2="88" stroke="#222" stroke-width="1.45"/>
<line x1="398.1" y1="87.5" x2="457.6" y2="87.5" stroke="#222" stroke-width="1.45"/>
<line x1="433.9" y1="87.5" x2="433.9" y2="86.1" stroke="#222" stroke-width="1.45"/>
<line x1="457.6" y1="87.5" x2="457.6" y2="86.1" stroke="#222" stroke-width="1.45"/>
<text x="396.3" y="64.67" font-size="8.8" fill="#262626" color="#262626" text-anchor="end">0</text>
<text x="397.4" y="77.77" font-size="8.8" fill="#262626" color="#262626" text-anchor="end">-3</text>
<text x="398.6" y="98.17" font-size="8.8" fill="#262626" color="#262626" text-anchor="middle">200</text>
<text x="433.9" y="98.17" font-size="8.8" fill="#262626" color="#262626" text-anchor="middle">300</text>
<text x="457.6" y="98.17" font-size="8.8" fill="#262626" color="#262626" text-anchor="middle">400</text>
<path d="M398.75 61.5 L410 61 L422.5 60.25 L424.4 59.6 L426.25 60.6 L430 62.1 L435 62.5 L442.5 63 L446 63.6 L448.1 66.5 L449.4 70.25 L450.6 80.25 L451.5 87.5" fill="none" stroke="#e50000" stroke-width="1.5" stroke-linejoin="round" stroke-linecap="round"/>
<path d="M470 80.3 L459.06 76.84" stroke="#e50000" stroke-width="1.5" fill="none"/>
<path d="M454.2 75.3 L462.5 73.94 L459.06 76.84 L460.2 81.19 Z" fill="#e50000"/>
<text x="471.6" y="85.5" font-size="8.8" fill="#e50000" color="#e50000">363 Hz</text>
<g transform="translate(0 0)">
<ellipse cx="461.7" cy="15.4" rx="7.4" ry="8.1" fill="none" stroke="#2a2a2a" stroke-width="1.45" stroke-dasharray="5.2 4.5" stroke-dashoffset="2.5"/>
<path d="M456.2 23.2 C451.5 27 446 34 442.5 43 C440.8 47.5 439.6 51 438.6 54.5" fill="none" stroke="#2a2a2a" stroke-width="1.5" stroke-dasharray="5.5 4"/>
<path d="M437.3 57.6 L435.67 48.76 L438.91 52.24 L443.53 51.12 Z" fill="#2a2a2a"/>
</g>
<text x="352.9" y="136.1" font-size="13" fill="#000" color="#000" font-weight="bold">f</text>
<line x1="389.2" y1="132.5" x2="389.2" y2="230.2" stroke="#222" stroke-width="1.45"/>
<line x1="388.7" y1="229.7" x2="506.4" y2="229.7" stroke="#222" stroke-width="1.45"/>
<line x1="389.2" y1="143.8" x2="390.8" y2="143.8" stroke="#222" stroke-width="1.45"/>
<line x1="389.2" y1="165.28" x2="390.8" y2="165.28" stroke="#222" stroke-width="1.45"/>
<line x1="389.2" y1="186.76" x2="390.8" y2="186.76" stroke="#222" stroke-width="1.45"/>
<line x1="389.2" y1="208.24" x2="390.8" y2="208.24" stroke="#222" stroke-width="1.45"/>
<line x1="418.37" y1="229.7" x2="418.37" y2="228.1" stroke="#222" stroke-width="1.45"/>
<line x1="448.34" y1="229.7" x2="448.34" y2="228.1" stroke="#222" stroke-width="1.45"/>
<line x1="478.31" y1="229.7" x2="478.31" y2="228.1" stroke="#222" stroke-width="1.45"/>
<line x1="397.42" y1="229.7" x2="397.42" y2="228.7" stroke="#222" stroke-width="0.8"/>
<line x1="402.7" y1="229.7" x2="402.7" y2="228.7" stroke="#222" stroke-width="0.8"/>
<line x1="406.44" y1="229.7" x2="406.44" y2="228.7" stroke="#222" stroke-width="0.8"/>
<line x1="409.35" y1="229.7" x2="409.35" y2="228.7" stroke="#222" stroke-width="0.8"/>
<line x1="411.72" y1="229.7" x2="411.72" y2="228.7" stroke="#222" stroke-width="0.8"/>
<line x1="413.73" y1="229.7" x2="413.73" y2="228.7" stroke="#222" stroke-width="0.8"/>
<line x1="415.47" y1="229.7" x2="415.47" y2="228.7" stroke="#222" stroke-width="0.8"/>
<line x1="417" y1="229.7" x2="417" y2="228.7" stroke="#222" stroke-width="0.8"/>
<line x1="427.39" y1="229.7" x2="427.39" y2="228.7" stroke="#222" stroke-width="0.8"/>
<line x1="432.67" y1="229.7" x2="432.67" y2="228.7" stroke="#222" stroke-width="0.8"/>
<line x1="436.41" y1="229.7" x2="436.41" y2="228.7" stroke="#222" stroke-width="0.8"/>
<line x1="439.32" y1="229.7" x2="439.32" y2="228.7" stroke="#222" stroke-width="0.8"/>
<line x1="441.69" y1="229.7" x2="441.69" y2="228.7" stroke="#222" stroke-width="0.8"/>
<line x1="443.7" y1="229.7" x2="443.7" y2="228.7" stroke="#222" stroke-width="0.8"/>
<line x1="445.44" y1="229.7" x2="445.44" y2="228.7" stroke="#222" stroke-width="0.8"/>
<line x1="446.97" y1="229.7" x2="446.97" y2="228.7" stroke="#222" stroke-width="0.8"/>
<line x1="457.36" y1="229.7" x2="457.36" y2="228.7" stroke="#222" stroke-width="0.8"/>
<line x1="462.64" y1="229.7" x2="462.64" y2="228.7" stroke="#222" stroke-width="0.8"/>
<line x1="466.38" y1="229.7" x2="466.38" y2="228.7" stroke="#222" stroke-width="0.8"/>
<line x1="469.29" y1="229.7" x2="469.29" y2="228.7" stroke="#222" stroke-width="0.8"/>
<line x1="471.66" y1="229.7" x2="471.66" y2="228.7" stroke="#222" stroke-width="0.8"/>
<line x1="473.67" y1="229.7" x2="473.67" y2="228.7" stroke="#222" stroke-width="0.8"/>
<line x1="475.41" y1="229.7" x2="475.41" y2="228.7" stroke="#222" stroke-width="0.8"/>
<line x1="476.94" y1="229.7" x2="476.94" y2="228.7" stroke="#222" stroke-width="0.8"/>
<line x1="487.33" y1="229.7" x2="487.33" y2="228.7" stroke="#222" stroke-width="0.8"/>
<line x1="492.61" y1="229.7" x2="492.61" y2="228.7" stroke="#222" stroke-width="0.8"/>
<line x1="496.35" y1="229.7" x2="496.35" y2="228.7" stroke="#222" stroke-width="0.8"/>
<line x1="499.26" y1="229.7" x2="499.26" y2="228.7" stroke="#222" stroke-width="0.8"/>
<line x1="501.63" y1="229.7" x2="501.63" y2="228.7" stroke="#222" stroke-width="0.8"/>
<line x1="503.64" y1="229.7" x2="503.64" y2="228.7" stroke="#222" stroke-width="0.8"/>
<line x1="505.38" y1="229.7" x2="505.38" y2="228.7" stroke="#222" stroke-width="0.8"/>
<text x="386.3" y="146.97" font-size="8.8" fill="#262626" color="#262626" text-anchor="end">0</text>
<text x="386.3" y="168.45" font-size="8.8" fill="#262626" color="#262626" text-anchor="end">-20</text>
<text x="386.3" y="189.93" font-size="8.8" fill="#262626" color="#262626" text-anchor="end">-40</text>
<text x="386.3" y="211.41" font-size="8.8" fill="#262626" color="#262626" text-anchor="end">-60</text>
<text x="386.3" y="232.89" font-size="8.8" fill="#262626" color="#262626" text-anchor="end">-80</text>
<text x="388.4" y="240.77" font-size="8.8" fill="#262626" color="#262626" text-anchor="middle">1</text>
<text x="418.37" y="240.77" font-size="8.8" fill="#262626" color="#262626" text-anchor="middle">10</text>
<text x="448.34" y="240.77" font-size="8.8" fill="#262626" color="#262626" text-anchor="middle">100</text>
<text x="478.31" y="240.77" font-size="8.8" fill="#262626" color="#262626" text-anchor="middle">1000</text>
<text x="447" y="254" font-size="10" fill="#262626" color="#262626" text-anchor="middle">Frequency (Hz)</text>
<text x="371.2" y="181.6" font-size="10" fill="#262626" color="#262626" text-anchor="middle" transform="rotate(-90 371.2 181.6)">Magnitude (dB)</text>
<path d="M389.2 143.8 L430 143.8 L452 143.8 L456 143.5 L460.8 141.8 L462.5 143 L464.2 150 L466.3 166.7 L468.3 152.5 L472.5 161.7 L475 164.2 L478 173.3 L480 169.2 L483 165.5 L484.7 178.3 L486.7 183.3 L488 181.7 L489.7 182.5 L490.8 193.3" fill="none" stroke="#0000e6" stroke-width="1.5" stroke-linejoin="round" stroke-linecap="round"/>
<path d="M490.8 193.3 L491.12 190.78 L491.44 223.61 L491.76 190.85 L492.08 207.12 L492.4 191.08 L492.72 223.89 L493.04 197.57 L493.36 216.44 L493.68 192.75 L494 226.33 L494.32 192.54 L494.64 226.66 L494.96 189.47 L495.28 219.11 L495.6 205.07 L495.92 226.97 L496.24 200.63 L496.56 226.17 L496.88 189.29 L497.2 218.92 L497.52 191.99 L497.84 214.04 L498.16 192.16 L498.48 205.24 L498.8 199.66 L499.12 224.68 L499.44 192.89 L499.76 220.16 L500.08 197.28 L500.4 218.74 L500.72 198.24 L501.04 224.55 L501.36 189.37 L501.68 214.81 L502 200.06 L502.32 225.68 L502.64 191.45 L502.96 210.17 L503.28 195.45 L503.6 217.58 L503.92 195.8 L504.24 210.34 L504.56 198.19 L504.88 220.18 L505.2 205.63 L505.52 217.26 L505.84 193.44 L506.16 205.83 L506.4 195.65" fill="none" stroke="#0000e6" stroke-width="1.2" stroke-linejoin="miter" stroke-linecap="round"/>
<rect x="491.2" y="196" width="15" height="19" fill="#0000e6"/>
<line x1="434.5" y1="179" x2="434.5" y2="217.2" stroke="#e0e0e0" stroke-width="0.9"/>
<line x1="458.75" y1="179" x2="458.75" y2="217.2" stroke="#e0e0e0" stroke-width="0.9"/>
<line x1="399.8" y1="192.2" x2="458.75" y2="192.2" stroke="#e0e0e0" stroke-width="0.9"/>
<line x1="399.8" y1="205.6" x2="458.75" y2="205.6" stroke="#e0e0e0" stroke-width="0.9"/>
<line x1="399.8" y1="179" x2="399.8" y2="217.7" stroke="#222" stroke-width="1.45"/>
<line x1="399.3" y1="217.2" x2="458.75" y2="217.2" stroke="#222" stroke-width="1.45"/>
<line x1="434.5" y1="217.2" x2="434.5" y2="215.8" stroke="#222" stroke-width="1.45"/>
<line x1="458.75" y1="217.2" x2="458.75" y2="215.8" stroke="#222" stroke-width="1.45"/>
<text x="397.4" y="195.37" font-size="8.8" fill="#262626" color="#262626" text-anchor="end">0</text>
<text x="398.6" y="208.77" font-size="8.8" fill="#262626" color="#262626" text-anchor="end">-3</text>
<text x="399.8" y="228.17" font-size="8.8" fill="#262626" color="#262626" text-anchor="middle">200</text>
<text x="434.5" y="228.17" font-size="8.8" fill="#262626" color="#262626" text-anchor="middle">300</text>
<text x="458.75" y="228.17" font-size="8.8" fill="#262626" color="#262626" text-anchor="middle">400</text>
<path d="M399.8 190 C401.29 189.75 406.38 188.9 408.75 188.5 C411.12 188.1 412.44 187.8 414 187.6 C415.56 187.4 416.85 187.3 418.1 187.3 C419.35 187.3 420.58 187.42 421.5 187.6 C422.42 187.78 422.88 188.03 423.6 188.4 C424.32 188.77 425.15 189.22 425.8 189.8 C426.45 190.38 426.93 191.07 427.5 191.9 C428.07 192.73 428.68 193.77 429.2 194.8 C429.72 195.83 430.1 196.85 430.6 198.1 C431.1 199.35 431.68 200.87 432.2 202.3 C432.72 203.73 433.23 205.12 433.75 206.7 C434.27 208.28 434.78 210.05 435.3 211.8 C435.82 213.55 436.63 216.3 436.9 217.2" fill="none" stroke="#0000e6" stroke-width="1.5" stroke-linejoin="round" stroke-linecap="round"/>
<path d="M452.5 208.3 L439.58 207.15" stroke="#0000e6" stroke-width="1.5" fill="none"/>
<path d="M434.5 206.7 L442.31 203.58 L439.58 207.15 L441.63 211.15 Z" fill="#0000e6"/>
<text x="454" y="213.3" font-size="8.8" fill="#0000e6" color="#0000e6">295 Hz</text>
<g transform="translate(-1 129)">
<ellipse cx="461.7" cy="15.4" rx="7.4" ry="8.1" fill="none" stroke="#2a2a2a" stroke-width="1.45" stroke-dasharray="5.2 4.5" stroke-dashoffset="2.5"/>
<path d="M456.2 23.2 C451.5 27 446 34 442.5 43 C440.8 47.5 439.6 51 438.6 54.5" fill="none" stroke="#2a2a2a" stroke-width="1.5" stroke-dasharray="5.5 4"/>
<path d="M437.3 57.6 L435.67 48.76 L438.91 52.24 L443.53 51.12 Z" fill="#2a2a2a"/>
</g>
<clipPath id="clipg"><rect x="565.6" y="3.9" width="118.4" height="98.6"/></clipPath>
<g clip-path="url(#clipg)">
<path d="M565.6 69.95 L566.3 70.25 L567 72.65 L567.7 72 L568.4 72.82 L569.1 72.75 L569.8 73.05 L570.5 72.64 L571.2 71.86 L571.9 72.73 L572.6 72.97 L573.3 72.11 L574 72.77 L574.7 72.23 L575.4 72.05 L576.1 72.17 L576.4 72.17 L576.4 98.67 L576.1 98.67 L575.4 99.69 L574.7 99.44 L574 99.08 L573.3 99.13 L572.6 99.2 L571.9 98.62 L571.2 99.88 L570.5 99.87 L569.8 99.27 L569.1 98.59 L568.4 99.55 L567.7 98.61 L567 99.01 L566.3 98.96 L565.6 99.58 Z" fill="#e50000"/>
<path d="M576.4 59.76 L577.1 60.14 L577.8 61.9 L578.5 62.59 L579.2 62.72 L579.9 62.13 L580.6 62.38 L581.3 62.23 L582 61.81 L582.7 61.55 L583.4 62.27 L584.1 61.76 L584.8 62.88 L585.5 62.77 L586.2 61.58 L586.9 61.64 L587.03 61.64 L587.03 88.86 L586.9 88.86 L586.2 89.15 L585.5 88.6 L584.8 88.75 L584.1 89.62 L583.4 89.48 L582.7 88.48 L582 89.25 L581.3 88.66 L580.6 89.73 L579.9 88.79 L579.2 89.58 L578.5 88.68 L577.8 88.62 L577.1 88.86 L576.4 88.75 Z" fill="#e50000"/>
<path d="M587.03 49.56 L587.73 50.41 L588.43 51.45 L589.13 51.94 L589.83 52.47 L590.53 52.58 L591.23 52.42 L591.93 51.86 L592.63 52.76 L593.33 51.83 L594.03 52.34 L594.73 51.66 L595.43 52.69 L596.13 52.22 L596.83 51.88 L597.53 52.55 L597.66 52.55 L597.66 79.15 L597.53 79.15 L596.83 78.3 L596.13 78.95 L595.43 78.32 L594.73 78.94 L594.03 78.46 L593.33 78.43 L592.63 78.63 L591.93 78.46 L591.23 79.01 L590.53 78.46 L589.83 78.69 L589.13 79.04 L588.43 78.32 L587.73 79.26 L587.03 78.8 Z" fill="#e50000"/>
<path d="M597.66 40.04 L598.36 40.18 L599.06 42.18 L599.76 42.11 L600.46 41.4 L601.16 42.1 L601.86 41.59 L602.56 42.6 L603.26 42.02 L603.96 42.04 L604.66 41.97 L605.36 42.59 L606.06 41.72 L606.76 42.49 L607.46 42.09 L608.16 42.41 L608.29 42.41 L608.29 68.41 L608.16 68.41 L607.46 68.72 L606.76 68.88 L606.06 69.29 L605.36 68.78 L604.66 68.24 L603.96 69.25 L603.26 69.16 L602.56 69.27 L601.86 68.3 L601.16 68.29 L600.46 69.41 L599.76 68.6 L599.06 68.81 L598.36 69.35 L597.66 68.41 Z" fill="#e50000"/>
<path d="M608.29 29.72 L608.99 30.3 L609.69 31.32 L610.39 32.17 L611.09 31.13 L611.79 31.77 L612.49 31.15 L613.19 31.18 L613.89 31.3 L614.59 31.35 L615.29 31.88 L615.99 31.29 L616.69 32.14 L617.39 31.72 L618.09 32.28 L618.79 31.44 L618.92 31.44 L618.92 59.11 L618.79 59.11 L618.09 58.2 L617.39 58.39 L616.69 58.41 L615.99 58.11 L615.29 59.03 L614.59 58.16 L613.89 58.07 L613.19 58.72 L612.49 58.39 L611.79 57.92 L611.09 59.22 L610.39 58.03 L609.69 59.2 L608.99 58.54 L608.29 59.15 Z" fill="#e50000"/>
<path d="M618.92 20.23 L619.62 19.23 L620.32 21.11 L621.02 21.45 L621.72 21.41 L622.42 21.7 L623.12 21.69 L623.82 21.66 L624.52 22.25 L625.22 21.6 L625.92 21.22 L626.62 21.65 L627.32 21.62 L628.02 22.11 L628.72 22.16 L629.42 21.57 L629.55 21.57 L629.55 47.74 L629.42 47.74 L628.72 48.31 L628.02 48.29 L627.32 47.84 L626.62 47.94 L625.92 48.78 L625.22 48.02 L624.52 48.55 L623.82 48.3 L623.12 48.61 L622.42 48.5 L621.72 48.12 L621.02 48.46 L620.32 47.85 L619.62 47.74 L618.92 48.47 Z" fill="#e50000"/>
<path d="M629.55 29.56 L630.25 29.42 L630.95 31.73 L631.65 31.74 L632.35 31.12 L633.05 31.25 L633.75 31.43 L634.45 32.18 L635.15 31.76 L635.85 31.17 L636.55 31.35 L637.25 32.36 L637.95 31.39 L638.65 31.19 L639.35 31.31 L640.05 31.75 L640.18 31.75 L640.18 59.14 L640.05 59.14 L639.35 58.05 L638.65 58.23 L637.95 58.07 L637.25 58.34 L636.55 59.15 L635.85 58.08 L635.15 59.19 L634.45 59.22 L633.75 58.99 L633.05 59.24 L632.35 58.04 L631.65 58.38 L630.95 57.93 L630.25 58.94 L629.55 57.97 Z" fill="#e50000"/>
<path d="M640.18 40.32 L640.88 39.9 L641.58 42.56 L642.28 42.39 L642.98 41.66 L643.68 42.38 L644.38 42.45 L645.08 41.72 L645.78 41.39 L646.48 41.8 L647.18 42.47 L647.88 41.73 L648.58 41.5 L649.28 41.23 L649.98 42.11 L650.68 41.99 L650.81 41.99 L650.81 68.26 L650.68 68.26 L649.98 69.08 L649.28 68.82 L648.58 68.38 L647.88 68.56 L647.18 69.4 L646.48 69.25 L645.78 68.79 L645.08 68.52 L644.38 68.76 L643.68 69.11 L642.98 69.27 L642.28 69.32 L641.58 68.27 L640.88 68.46 L640.18 68.38 Z" fill="#e50000"/>
<path d="M650.81 49.73 L651.51 49.63 L652.21 51.88 L652.91 51.95 L653.61 52.34 L654.31 52.73 L655.01 51.91 L655.71 52.06 L656.41 52.59 L657.11 51.86 L657.81 52.77 L658.51 52.63 L659.21 52.46 L659.91 51.95 L660.61 51.9 L661.31 52.59 L661.44 52.59 L661.44 79.49 L661.31 79.49 L660.61 78.84 L659.91 78.46 L659.21 78.99 L658.51 78.68 L657.81 78.67 L657.11 78.21 L656.41 78.49 L655.71 79.43 L655.01 78.78 L654.31 78.38 L653.61 78.18 L652.91 79.1 L652.21 79.55 L651.51 78.53 L650.81 78.24 Z" fill="#e50000"/>
<path d="M661.44 60.6 L662.14 60.8 L662.84 61.72 L663.54 62.37 L664.24 62.92 L664.94 62.15 L665.64 62.03 L666.34 61.63 L667.04 62.59 L667.74 62.88 L668.44 62.37 L669.14 62.86 L669.84 62.92 L670.54 61.62 L671.24 62.66 L671.94 62.23 L672.07 62.23 L672.07 89.24 L671.94 89.24 L671.24 89.19 L670.54 88.54 L669.84 89.11 L669.14 89.43 L668.44 88.67 L667.74 89.08 L667.04 89.6 L666.34 89.36 L665.64 88.96 L664.94 88.83 L664.24 89.24 L663.54 88.71 L662.84 89.43 L662.14 89.23 L661.44 88.55 Z" fill="#e50000"/>
<path d="M672.07 69.96 L672.77 70.67 L673.47 73.03 L674.17 72 L674.87 73.09 L675.57 72.06 L676.27 72.06 L676.97 72.78 L677.67 72.77 L678.37 72.63 L679.07 72.13 L679.77 72.1 L680.47 72.32 L681.17 72 L681.87 72.73 L682.57 71.75 L682.7 71.75 L682.7 98.8 L682.57 98.8 L681.87 99.4 L681.17 99.23 L680.47 99.11 L679.77 98.87 L679.07 99.68 L678.37 99.55 L677.67 98.55 L676.97 98.65 L676.27 99.13 L675.57 99.15 L674.87 99.68 L674.17 99.5 L673.47 99.75 L672.77 98.92 L672.07 98.74 Z" fill="#e50000"/>
<path d="M682.7 59.71 L683.4 60.57 L683.8 60.57 L683.8 88.67 L683.4 88.67 L682.7 88.36 Z" fill="#e50000"/>
<rect x="565.6" y="68.42" width="1.2" height="40.65" fill="#e50000"/>
</g>
<path d="M565.6 85.7 L576.4 85.7 L576.4 75.54 L587.03 75.54 L587.03 65.38 L597.66 65.38 L597.66 55.21 L608.29 55.21 L608.29 45.05 L618.92 45.05 L618.92 34.89 L629.55 34.89 L629.55 45.05 L640.18 45.05 L640.18 55.21 L650.81 55.21 L650.81 65.38 L661.44 65.38 L661.44 75.54 L672.07 75.54 L672.07 85.7 L682.7 85.7 L682.7 75.54" fill="none" stroke="#00e600" stroke-width="2.1" stroke-linejoin="miter" stroke-linecap="butt" stroke-dasharray="6.5 2 2.2 2"/>
<line x1="565.6" y1="3.9" x2="565.6" y2="103" stroke="#222" stroke-width="1.45"/>
<line x1="565.1" y1="102.5" x2="683" y2="102.5" stroke="#222" stroke-width="1.45"/>
<line x1="565.6" y1="85.7" x2="567.2" y2="85.7" stroke="#222" stroke-width="1.45"/>
<line x1="565.6" y1="65.38" x2="567.2" y2="65.38" stroke="#222" stroke-width="1.45"/>
<line x1="565.6" y1="45.05" x2="567.2" y2="45.05" stroke="#222" stroke-width="1.45"/>
<line x1="565.6" y1="24.72" x2="567.2" y2="24.72" stroke="#222" stroke-width="1.45"/>
<line x1="565.6" y1="4.4" x2="567.2" y2="4.4" stroke="#222" stroke-width="1.45"/>
<line x1="619.15" y1="102.5" x2="619.15" y2="100.9" stroke="#222" stroke-width="1.45"/>
<line x1="672.7" y1="102.5" x2="672.7" y2="100.9" stroke="#222" stroke-width="1.45"/>
<text x="563.3" y="88.87" font-size="8.8" fill="#262626" color="#262626" text-anchor="end">0</text>
<text x="563.3" y="68.54" font-size="8.8" fill="#262626" color="#262626" text-anchor="end">10</text>
<text x="563.3" y="48.22" font-size="8.8" fill="#262626" color="#262626" text-anchor="end">20</text>
<text x="563.3" y="27.89" font-size="8.8" fill="#262626" color="#262626" text-anchor="end">30</text>
<text x="563.3" y="7.57" font-size="8.8" fill="#262626" color="#262626" text-anchor="end">40</text>
<text x="565.6" y="112.87" font-size="8.8" fill="#262626" color="#262626" text-anchor="middle">0</text>
<text x="619.15" y="112.87" font-size="8.8" fill="#262626" color="#262626" text-anchor="middle">5</text>
<text x="672.7" y="112.87" font-size="8.8" fill="#262626" color="#262626" text-anchor="middle">10</text>
<text x="624.4" y="125.6" font-size="10" fill="#262626" color="#262626" text-anchor="middle">Time (s)</text>
<text x="550.5" y="53.8" font-size="10.0" fill="#262626" color="#262626" text-anchor="middle" transform="rotate(-90 550.5 53.8)"><tspan font-style="italic">X</tspan> Displacement (nm)</text>
<text x="515.7" y="7" font-size="13" fill="#000" color="#000" font-weight="bold">g</text>
<line x1="590.8" y1="83.8" x2="615.5" y2="83.8" stroke="#e50000" stroke-width="1.5"/>
<line x1="590.8" y1="92.8" x2="615.5" y2="92.8" stroke="#00e600" stroke-width="2" stroke-dasharray="5.7 1.9 1.9 1.9"/>
<text x="618.6" y="86.3" font-size="7.1" fill="#262626" color="#262626">Measured</text>
<text x="618.6" y="95.3" font-size="7.1" fill="#262626" color="#262626">Reference</text>
<clipPath id="cliph"><rect x="565.6" y="133" width="118.4" height="98"/></clipPath>
<g clip-path="url(#cliph)">
<path d="M565.6 198.96 L566.3 198.96 L567 200.77 L567.7 201.67 L568.4 201.12 L569.1 201.07 L569.8 201.34 L570.5 201.02 L571.2 201.39 L571.9 201.2 L572.6 201.7 L573.3 201.89 L574 201.8 L574.7 201.85 L575.4 201.52 L576.1 201.96 L576.4 201.96 L576.4 228.66 L576.1 228.66 L575.4 228.8 L574.7 229.9 L574 228.64 L573.3 229.88 L572.6 229.47 L571.9 229.03 L571.2 229.61 L570.5 229.8 L569.8 229.78 L569.1 229.97 L568.4 229.57 L567.7 229.87 L567 229.06 L566.3 229.06 L565.6 229.92 Z" fill="#0000e6"/>
<path d="M576.4 188.64 L577.1 188.64 L577.8 191.52 L578.5 191.1 L579.2 190.47 L579.9 191.52 L580.6 190.33 L581.3 191.46 L582 191.46 L582.7 190.43 L583.4 190.72 L584.1 190.73 L584.8 191.47 L585.5 190.55 L586.2 191.17 L586.9 191.58 L587.03 191.58 L587.03 218.57 L586.9 218.57 L586.2 218.81 L585.5 218.5 L584.8 218.35 L584.1 218.61 L583.4 219.37 L582.7 219.35 L582 218.26 L581.3 218.5 L580.6 219.53 L579.9 219.43 L579.2 219.46 L578.5 219.36 L577.8 219.04 L577.1 219.24 L576.4 219.1 Z" fill="#0000e6"/>
<path d="M587.03 178.83 L587.73 178.71 L588.43 179.88 L589.13 180.03 L589.83 181.18 L590.53 180.61 L591.23 180.74 L591.93 180.47 L592.63 180.02 L593.33 180.08 L594.03 181.22 L594.73 180.16 L595.43 181.22 L596.13 180.54 L596.83 180.97 L597.53 180.74 L597.66 180.74 L597.66 208.99 L597.53 208.99 L596.83 208.52 L596.13 208.94 L595.43 208.51 L594.73 209.19 L594.03 208.11 L593.33 208.06 L592.63 207.95 L591.93 208.13 L591.23 208.81 L590.53 208.91 L589.83 208.4 L589.13 208.69 L588.43 208.53 L587.73 208.27 L587.03 208.83 Z" fill="#0000e6"/>
<path d="M597.66 168.47 L598.36 168.44 L599.06 169.86 L599.76 170.68 L600.46 170.72 L601.16 169.86 L601.86 169.96 L602.56 170.28 L603.26 169.59 L603.96 169.59 L604.66 170.55 L605.36 169.58 L606.06 170.31 L606.76 170.51 L607.46 170.09 L608.16 169.78 L608.29 169.78 L608.29 198.34 L608.16 198.34 L607.46 198.49 L606.76 198.08 L606.06 198.68 L605.36 198.14 L604.66 197.81 L603.96 197.47 L603.26 197.56 L602.56 197.99 L601.86 197.94 L601.16 198.54 L600.46 198.54 L599.76 198.33 L599.06 198.14 L598.36 197.74 L597.66 198.76 Z" fill="#0000e6"/>
<path d="M608.29 157.96 L608.99 158.23 L609.69 159.52 L610.39 160.21 L611.09 159.37 L611.79 160.27 L612.49 159.21 L613.19 160.18 L613.89 159.47 L614.59 160.23 L615.29 160.1 L615.99 159.72 L616.69 159.99 L617.39 159.08 L618.09 160.31 L618.79 160.31 L618.92 160.31 L618.92 187.59 L618.79 187.59 L618.09 188.4 L617.39 188.07 L616.69 187.31 L615.99 187.28 L615.29 187.51 L614.59 187.27 L613.89 188.23 L613.19 187.47 L612.49 187.38 L611.79 187.7 L611.09 187.86 L610.39 187.66 L609.69 188.09 L608.99 188.23 L608.29 187.51 Z" fill="#0000e6"/>
<path d="M618.92 146.69 L619.62 147.04 L620.32 149.79 L621.02 149.91 L621.72 149.52 L622.42 149.5 L623.12 149.09 L623.82 149.18 L624.52 149.86 L625.22 149.5 L625.92 148.79 L626.62 149.26 L627.32 149.47 L628.02 149.05 L628.72 148.98 L629.42 148.87 L629.55 148.87 L629.55 177.61 L629.42 177.61 L628.72 177.64 L628.02 177.89 L627.32 176.98 L626.62 177.71 L625.92 177.26 L625.22 177.7 L624.52 177.51 L623.82 177.31 L623.12 177.36 L622.42 177.77 L621.72 176.71 L621.02 176.95 L620.32 177.56 L619.62 177.27 L618.92 177.78 Z" fill="#0000e6"/>
<path d="M629.55 157.55 L630.25 158.01 L630.95 160.31 L631.65 159.35 L632.35 159.57 L633.05 159.86 L633.75 159.58 L634.45 159.5 L635.15 160.19 L635.85 159.36 L636.55 159.76 L637.25 160.4 L637.95 160.22 L638.65 159.13 L639.35 160.31 L640.05 159.69 L640.18 159.69 L640.18 188.05 L640.05 188.05 L639.35 187.85 L638.65 187.78 L637.95 188.14 L637.25 187.81 L636.55 188.41 L635.85 187.59 L635.15 187.97 L634.45 188.35 L633.75 187.62 L633.05 187.69 L632.35 187.4 L631.65 188.05 L630.95 187.64 L630.25 187.93 L629.55 187.69 Z" fill="#0000e6"/>
<path d="M640.18 168.12 L640.88 167.68 L641.58 170.26 L642.28 170.54 L642.98 170.29 L643.68 170.67 L644.38 170.34 L645.08 170.45 L645.78 170.82 L646.48 170.25 L647.18 170.34 L647.88 170.52 L648.58 169.52 L649.28 170.53 L649.98 170.29 L650.68 170.66 L650.81 170.66 L650.81 198.52 L650.68 198.52 L649.98 197.73 L649.28 198.56 L648.58 198.18 L647.88 198.48 L647.18 197.81 L646.48 198.42 L645.78 198.02 L645.08 198 L644.38 197.52 L643.68 198.82 L642.98 198.51 L642.28 198.4 L641.58 198.76 L640.88 198.17 L640.18 198.33 Z" fill="#0000e6"/>
<path d="M650.81 178.09 L651.51 178.57 L652.21 180.91 L652.91 180.73 L653.61 180.08 L654.31 180.57 L655.01 180.46 L655.71 180.06 L656.41 180.03 L657.11 180.7 L657.81 180.63 L658.51 181.22 L659.21 180.83 L659.91 180.8 L660.61 180.63 L661.31 180.3 L661.44 180.3 L661.44 208.33 L661.31 208.33 L660.61 208.72 L659.91 208.5 L659.21 208.17 L658.51 208.84 L657.81 208.09 L657.11 208.18 L656.41 208.2 L655.71 208.32 L655.01 208 L654.31 208.24 L653.61 208.97 L652.91 208.72 L652.21 209.17 L651.51 208.61 L650.81 208.71 Z" fill="#0000e6"/>
<path d="M661.44 188.31 L662.14 189.53 L662.84 190.34 L663.54 191.42 L664.24 190.73 L664.94 191.6 L665.64 190.69 L666.34 191.47 L667.04 191.29 L667.74 191.13 L668.44 190.35 L669.14 191.38 L669.84 190.76 L670.54 190.68 L671.24 190.51 L671.94 191.34 L672.07 191.34 L672.07 219.18 L671.94 219.18 L671.24 219.39 L670.54 219.46 L669.84 219.31 L669.14 219.46 L668.44 219.32 L667.74 218.43 L667.04 219.3 L666.34 218.41 L665.64 218.56 L664.94 219.54 L664.24 218.23 L663.54 219.38 L662.84 219.31 L662.14 219.37 L661.44 219.41 Z" fill="#0000e6"/>
<path d="M672.07 199.26 L672.77 199.39 L673.47 201.22 L674.17 201.67 L674.87 201.31 L675.57 201.35 L676.27 201.31 L676.97 201.24 L677.67 201.99 L678.37 201.34 L679.07 201.07 L679.77 201.48 L680.47 200.66 L681.17 201.11 L681.87 201.96 L682.57 201.04 L682.7 201.04 L682.7 229.9 L682.57 229.9 L681.87 229.45 L681.17 229.49 L680.47 228.71 L679.77 229.19 L679.07 229.78 L678.37 229.39 L677.67 229.78 L676.97 229.81 L676.27 229.3 L675.57 228.8 L674.87 228.68 L674.17 228.8 L673.47 228.97 L672.77 229.84 L672.07 229.64 Z" fill="#0000e6"/>
<path d="M682.7 189.15 L683.4 188.9 L683.8 188.9 L683.8 218.89 L683.4 218.89 L682.7 219.59 Z" fill="#0000e6"/>
<rect x="565.6" y="198.94" width="1.2" height="41.55" fill="#0000e6"/>
</g>
<path d="M565.6 216.6 L576.4 216.6 L576.4 206.21 L587.03 206.21 L587.03 195.82 L597.66 195.82 L597.66 185.44 L608.29 185.44 L608.29 175.05 L618.92 175.05 L618.92 164.66 L629.55 164.66 L629.55 175.05 L640.18 175.05 L640.18 185.44 L650.81 185.44 L650.81 195.82 L661.44 195.82 L661.44 206.21 L672.07 206.21 L672.07 216.6 L682.7 216.6 L682.7 206.21" fill="none" stroke="#00e600" stroke-width="2.1" stroke-linejoin="miter" stroke-linecap="butt" stroke-dasharray="6.5 2 2.2 2"/>
<line x1="565.6" y1="133" x2="565.6" y2="231.5" stroke="#222" stroke-width="1.45"/>
<line x1="565.1" y1="231" x2="683" y2="231" stroke="#222" stroke-width="1.45"/>
<line x1="565.6" y1="216.6" x2="567.2" y2="216.6" stroke="#222" stroke-width="1.45"/>
<line x1="565.6" y1="195.82" x2="567.2" y2="195.82" stroke="#222" stroke-width="1.45"/>
<line x1="565.6" y1="175.05" x2="567.2" y2="175.05" stroke="#222" stroke-width="1.45"/>
<line x1="565.6" y1="154.27" x2="567.2" y2="154.27" stroke="#222" stroke-width="1.45"/>
<line x1="565.6" y1="133.5" x2="567.2" y2="133.5" stroke="#222" stroke-width="1.45"/>
<line x1="619.15" y1="231" x2="619.15" y2="229.4" stroke="#222" stroke-width="1.45"/>
<line x1="672.7" y1="231" x2="672.7" y2="229.4" stroke="#222" stroke-width="1.45"/>
<text x="563.3" y="219.77" font-size="8.8" fill="#262626" color="#262626" text-anchor="end">0</text>
<text x="563.3" y="198.99" font-size="8.8" fill="#262626" color="#262626" text-anchor="end">10</text>
<text x="563.3" y="178.22" font-size="8.8" fill="#262626" color="#262626" text-anchor="end">20</text>
<text x="563.3" y="157.44" font-size="8.8" fill="#262626" color="#262626" text-anchor="end">30</text>
<text x="563.3" y="136.67" font-size="8.8" fill="#262626" color="#262626" text-anchor="end">40</text>
<text x="565.6" y="241.37" font-size="8.8" fill="#262626" color="#262626" text-anchor="middle">0</text>
<text x="619.15" y="241.37" font-size="8.8" fill="#262626" color="#262626" text-anchor="middle">5</text>
<text x="672.7" y="241.37" font-size="8.8" fill="#262626" color="#262626" text-anchor="middle">10</text>
<text x="624.4" y="254.1" font-size="10" fill="#262626" color="#262626" text-anchor="middle">Time (s)</text>
<text x="550.5" y="182.6" font-size="10.0" fill="#262626" color="#262626" text-anchor="middle" transform="rotate(-90 550.5 182.6)"><tspan font-style="italic">Y</tspan> Displacement (nm)</text>
<text x="517.4" y="136.1" font-size="13" fill="#000" color="#000" font-weight="bold">h</text>
<line x1="589.8" y1="212.6" x2="615.5" y2="212.6" stroke="#0000e6" stroke-width="1.5"/>
<line x1="589.8" y1="221.6" x2="615.5" y2="221.6" stroke="#00e600" stroke-width="2" stroke-dasharray="5.7 1.9 1.9 1.9"/>
<text x="618" y="215.7" font-size="7.1" fill="#262626" color="#262626">Measured</text>
<text x="618" y="224.7" font-size="7.1" fill="#262626" color="#262626">Reference</text>
<text x="3.3" y="272.2" font-size="13" fill="#000" color="#000" font-weight="bold">i</text>
<line x1="37" y1="263.6" x2="37" y2="361" stroke="#222" stroke-width="1.45"/>
<line x1="36.5" y1="360.5" x2="174.5" y2="360.5" stroke="#222" stroke-width="1.45"/>
<line x1="37" y1="356.5" x2="38.6" y2="356.5" stroke="#222" stroke-width="1.45"/>
<line x1="37" y1="320.55" x2="38.6" y2="320.55" stroke="#222" stroke-width="1.45"/>
<line x1="37" y1="284.6" x2="38.6" y2="284.6" stroke="#222" stroke-width="1.45"/>
<line x1="80.6" y1="360.5" x2="80.6" y2="358.9" stroke="#222" stroke-width="1.45"/>
<line x1="124.2" y1="360.5" x2="124.2" y2="358.9" stroke="#222" stroke-width="1.45"/>
<line x1="167.8" y1="360.5" x2="167.8" y2="358.9" stroke="#222" stroke-width="1.45"/>
<rect x="36.2" y="267.3" width="138.2" height="89.6" fill="#00e600"/>
<line x1="36.2" y1="356.8" x2="174.4" y2="356.8" stroke="#e50000" stroke-width="1.1"/>
<line x1="174.1" y1="267.3" x2="174.1" y2="356.5" stroke="#e50000" stroke-width="0.8" stroke-dasharray="1 2.5"/>
<text x="34.3" y="359.67" font-size="8.8" fill="#262626" color="#262626" text-anchor="end">0</text>
<text x="34.3" y="323.72" font-size="8.8" fill="#262626" color="#262626" text-anchor="end">5</text>
<text x="34.3" y="287.77" font-size="8.8" fill="#262626" color="#262626" text-anchor="end">10</text>
<text x="37" y="371.07" font-size="8.8" fill="#262626" color="#262626" text-anchor="middle">0</text>
<text x="80.6" y="371.07" font-size="8.8" fill="#262626" color="#262626" text-anchor="middle">2</text>
<text x="124.2" y="371.07" font-size="8.8" fill="#262626" color="#262626" text-anchor="middle">4</text>
<text x="167.8" y="371.07" font-size="8.8" fill="#262626" color="#262626" text-anchor="middle">6</text>
<text x="105.7" y="382.8" font-size="10" fill="#262626" color="#262626" text-anchor="middle">Time (s)</text>
<text x="21.2" y="312.6" font-size="10.0" fill="#262626" color="#262626" text-anchor="middle" transform="rotate(-90 21.2 312.6)"><tspan font-style="italic">X</tspan> Displacement (µm)</text>
<path d="M35.7 263.3 L35.7 362.3 L42 362.3 L42 263.3" fill="none" stroke="#2a2a2a" stroke-width="1.4" stroke-dasharray="5.2 3.5"/>
<text x="141.8" y="323.7" font-size="10.1" fill="#111" color="#111">40 Hz</text>
<path d="M48.2 279.5 C58 275.8 75 273 100 271.6 C125 270.6 150 270.5 175 271.3 C190 272 200 273.6 210.3 275.3" fill="none" stroke="#2a2a2a" stroke-width="1.55" stroke-dasharray="5.4 4.3"/>
<path d="M215.8 276.2 L207.29 278.95 L210.26 275.36 L208.49 271.04 Z" fill="#2a2a2a"/>
<text x="191.2" y="333.4" font-size="7.4" fill="#262626" color="#262626" transform="rotate(-90 191.2 333.4)">Measured</text>
<text x="199.5" y="332.8" font-size="7.4" fill="#262626" color="#262626" transform="rotate(-90 199.5 332.8)">Shifted reference</text>
<line x1="187.5" y1="336.4" x2="187.5" y2="361.4" stroke="#e50000" stroke-width="1.5"/>
<line x1="196.2" y1="336.4" x2="196.2" y2="361.4" stroke="#00e600" stroke-width="1.6" stroke-dasharray="5.7 1.9 1.9 1.9"/>
<line x1="223.4" y1="262.4" x2="223.4" y2="360.7" stroke="#222" stroke-width="1.45"/>
<line x1="222.9" y1="360.2" x2="321.8" y2="360.2" stroke="#222" stroke-width="1.45"/>
<line x1="223.4" y1="356.5" x2="225" y2="356.5" stroke="#222" stroke-width="1.45"/>
<line x1="223.4" y1="320.35" x2="225" y2="320.35" stroke="#222" stroke-width="1.45"/>
<line x1="223.4" y1="284.2" x2="225" y2="284.2" stroke="#222" stroke-width="1.45"/>
<line x1="272.1" y1="360.2" x2="272.1" y2="358.6" stroke="#222" stroke-width="1.45"/>
<line x1="320.8" y1="360.2" x2="320.8" y2="358.6" stroke="#222" stroke-width="1.45"/>
<text x="220.8" y="359.67" font-size="8.8" fill="#262626" color="#262626" text-anchor="end">0</text>
<text x="220.8" y="323.52" font-size="8.8" fill="#262626" color="#262626" text-anchor="end">5</text>
<text x="220.8" y="287.37" font-size="8.8" fill="#262626" color="#262626" text-anchor="end">10</text>
<text x="223.5" y="370.07" font-size="8.8" fill="#262626" color="#262626" text-anchor="middle">0</text>
<text x="272.1" y="370.07" font-size="8.8" fill="#262626" color="#262626" text-anchor="middle">0.05</text>
<text x="320.8" y="370.07" font-size="8.8" fill="#262626" color="#262626" text-anchor="middle">0.1</text>
<path d="M223.4 355.8 L235.65 267.6 L247.9 355.8 L260.15 267.6 L272.4 355.8 L284.65 267.6 L296.9 355.8 L309.15 267.6 L321.4 355.8" fill="none" stroke="#00e600" stroke-width="2.2" stroke-linejoin="round" stroke-linecap="round"/>
<path d="M223.4 355.8 L235.65 267.6 L247.9 355.8 L260.15 267.6 L272.4 355.8 L284.65 267.6 L296.9 355.8 L309.15 267.6 L321.4 355.8" fill="none" stroke="#e50000" stroke-width="2.2" stroke-linejoin="round" stroke-linecap="butt" stroke-dasharray="1.1 3.0"/>
<text x="352.7" y="268.2" font-size="13" fill="#000" color="#000" font-weight="bold">j</text>
<line x1="389.5" y1="262" x2="389.5" y2="360.4" stroke="#222" stroke-width="1.45"/>
<line x1="389" y1="359.9" x2="526.4" y2="359.9" stroke="#222" stroke-width="1.45"/>
<line x1="389.5" y1="356.5" x2="391.1" y2="356.5" stroke="#222" stroke-width="1.45"/>
<line x1="389.5" y1="320.2" x2="391.1" y2="320.2" stroke="#222" stroke-width="1.45"/>
<line x1="389.5" y1="283.9" x2="391.1" y2="283.9" stroke="#222" stroke-width="1.45"/>
<line x1="433.2" y1="359.9" x2="433.2" y2="358.3" stroke="#222" stroke-width="1.45"/>
<line x1="476.9" y1="359.9" x2="476.9" y2="358.3" stroke="#222" stroke-width="1.45"/>
<line x1="520.6" y1="359.9" x2="520.6" y2="358.3" stroke="#222" stroke-width="1.45"/>
<text x="386.8" y="359.67" font-size="8.8" fill="#262626" color="#262626" text-anchor="end">0</text>
<text x="386.8" y="323.37" font-size="8.8" fill="#262626" color="#262626" text-anchor="end">5</text>
<text x="386.8" y="287.07" font-size="8.8" fill="#262626" color="#262626" text-anchor="end">10</text>
<text x="388.8" y="369.87" font-size="8.8" fill="#262626" color="#262626" text-anchor="middle">0</text>
<text x="432.6" y="369.87" font-size="8.8" fill="#262626" color="#262626" text-anchor="middle">2</text>
<text x="476.4" y="369.87" font-size="8.8" fill="#262626" color="#262626" text-anchor="middle">4</text>
<text x="520.2" y="369.87" font-size="8.8" fill="#262626" color="#262626" text-anchor="middle">6</text>
<text x="456.9" y="382.9" font-size="10" fill="#262626" color="#262626" text-anchor="middle">Time (s)</text>
<text x="373.4" y="312.1" font-size="10.0" fill="#262626" color="#262626" text-anchor="middle" transform="rotate(-90 373.4 312.1)"><tspan font-style="italic">Y</tspan> Displacement (µm)</text>
<path d="M389.1 356.6 L525.3 266.6" fill="none" stroke="#0000e6" stroke-width="3" stroke-linejoin="round" stroke-linecap="butt"/>
<path d="M389.1 356.6 L525.3 266.6" fill="none" stroke="#00e600" stroke-width="1.8" stroke-linejoin="round" stroke-linecap="butt" stroke-dasharray="5.5 2 1.8 2"/>
<line x1="395.3" y1="268.5" x2="420.9" y2="268.5" stroke="#0000e6" stroke-width="1.6"/>
<line x1="395.3" y1="277.6" x2="420.9" y2="277.6" stroke="#00e600" stroke-width="1.6" stroke-dasharray="5.7 1.9 1.9 1.9"/>
<text x="423.9" y="271.1" font-size="7.4" fill="#262626" color="#262626">Measured</text>
<text x="423.9" y="280.2" font-size="7.4" fill="#262626" color="#262626">Shifted reference</text>
<text x="494.2" y="327.7" font-size="9.9" fill="#111" color="#111">40 Hz</text>
<path d="M388.2 349.8 L388.2 361.2 L392.8 361.2 L392.8 349.8" fill="none" stroke="#222" stroke-width="1.3" stroke-dasharray="3 2"/>
<path d="M394.1 356.6 C396.82 356.52 404.27 356.4 410.4 356.1 C416.53 355.8 424.08 355.38 430.9 354.8 C437.72 354.22 444.5 353.47 451.3 352.6 C458.1 351.73 464.88 350.72 471.7 349.6 C478.52 348.48 485.38 347.22 492.2 345.9 C499.02 344.58 506.3 343.08 512.6 341.7 C518.9 340.32 524.6 339.05 530 337.6 C535.4 336.15 539.75 334.72 545 333 C550.25 331.28 558.75 328.25 561.5 327.3" fill="none" stroke="#2a2a2a" stroke-width="1.6" stroke-linejoin="round" stroke-linecap="butt" stroke-dasharray="5.4 4.3"/>
<path d="M567.2 325.3 L561.4 332.34 L561.98 327.68 L558.08 325.06 Z" fill="#2a2a2a"/>
<line x1="576.15" y1="261.7" x2="576.15" y2="360.7" stroke="#222" stroke-width="1.45"/>
<line x1="575.65" y1="360.2" x2="674.1" y2="360.2" stroke="#222" stroke-width="1.45"/>
<line x1="576.15" y1="262.1" x2="577.75" y2="262.1" stroke="#222" stroke-width="1.45"/>
<line x1="576.15" y1="286.6" x2="577.75" y2="286.6" stroke="#222" stroke-width="1.45"/>
<line x1="576.15" y1="311.1" x2="577.75" y2="311.1" stroke="#222" stroke-width="1.45"/>
<line x1="576.15" y1="335.6" x2="577.75" y2="335.6" stroke="#222" stroke-width="1.45"/>
<line x1="576.15" y1="360.1" x2="577.75" y2="360.1" stroke="#222" stroke-width="1.45"/>
<line x1="624.9" y1="360.2" x2="624.9" y2="358.6" stroke="#222" stroke-width="1.45"/>
<line x1="673.6" y1="360.2" x2="673.6" y2="358.6" stroke="#222" stroke-width="1.45"/>
<text x="573.5" y="265.27" font-size="8.8" fill="#262626" color="#262626" text-anchor="end">0.3</text>
<text x="573.5" y="289.77" font-size="8.8" fill="#262626" color="#262626" text-anchor="end">0.2</text>
<text x="573.5" y="314.27" font-size="8.8" fill="#262626" color="#262626" text-anchor="end">0.1</text>
<text x="573.5" y="338.77" font-size="8.8" fill="#262626" color="#262626" text-anchor="end">0</text>
<text x="573.5" y="363.27" font-size="8.8" fill="#262626" color="#262626" text-anchor="end">-0.1</text>
<text x="575.8" y="370.07" font-size="8.8" fill="#262626" color="#262626" text-anchor="middle">0</text>
<text x="624.9" y="370.07" font-size="8.8" fill="#262626" color="#262626" text-anchor="middle">0.05</text>
<text x="673.6" y="370.07" font-size="8.8" fill="#262626" color="#262626" text-anchor="middle">0.1</text>
<path d="M576.25 332.53 L576.77 329.74 L577.3 330.97 L577.65 330.56 L578 329.65 L578.35 330.84 L578.7 329.39 L579.05 329.5 L579.4 329.47 L579.9 331.65 L580.4 331.75 L580.75 333.03 L581.1 333.7 L581.45 334.74 L581.8 336.15 L582.15 335.46 L582.5 337.55 L582.85 336.45 L583.2 336.71 L583.55 336.11 L583.9 336.72 L584.25 337.93 L584.6 337.1 L585.1 339.01 L585.6 339.36 L585.97 339.66 L586.33 339.94 L586.7 341.02 L587.2 343.25 L587.7 345.74 L588.23 344.8 L588.75 347.58 L589.27 344.9 L589.8 340.92 L590.3 327.13 L590.8 315.28 L591.17 313.83 L591.53 313.63 L591.9 314.85 L592.4 317.16 L592.9 320.41 L593.27 319.02 L593.63 317.6 L594 315.09 L594.5 322.9 L595 330.73 L595.5 323.11 L596 315.05 L596.5 324.12 L597 331.75 L597.37 328.1 L597.73 322.72 L598.1 318.68 L598.47 318.96 L598.83 321.17 L599.2 322.8 L599.6 322.15 L600 319.95 L600.4 316.72 L600.8 313.41 L601.17 317.71 L601.55 320.75 L601.92 323.29 L602.3 325.62 L602.65 325.03 L603 324.63 L603.35 323.65 L603.7 323.24 L604.05 323.08 L604.4 323.13 L604.75 319.99 L605.1 320.48 L605.45 318.25 L605.8 317.61 L606.15 318.56 L606.5 317.1 L607 321.54 L607.5 323.86 L608 326.99 L608.5 332.21 L608.87 327.17 L609.23 322.5 L609.6 317.05 L610.1 324.09 L610.6 332.27 L610.97 328.63 L611.33 327.21 L611.7 323.25 L612.2 330.47 L612.7 337.49 L613.23 332.24 L613.75 328.78 L614.27 317.42 L614.8 309.71 L615.3 309.03 L615.8 312.66 L616.17 306.57 L616.53 302.11 L616.9 299.77 L617.4 303.18 L617.9 309.11 L618.27 308.75 L618.63 309.46 L619 312.41 L619.4 312.88 L619.8 313.86 L620.2 314.16 L620.6 313.1 L621 315.13 L621.35 314.48 L621.7 312.96 L622.05 313.32 L622.4 310.69 L622.75 311.67 L623.1 310.16 L623.45 307.28 L623.8 306.24 L624.15 306.84 L624.5 306.23 L624.85 303.26 L625.2 302.81 L625.73 307.55 L626.25 309.73 L626.67 309.59 L627.1 306.66 L627.45 305.21 L627.8 305.66 L628.15 305.84 L628.5 305.14 L628.85 305.41 L629.2 303.68 L629.61 306.41 L630.02 306.32 L630.43 308.1 L630.84 309.1 L631.25 309.59 L631.66 309.92 L632.07 311.38 L632.48 312.22 L632.89 312.22 L633.3 312.07 L633.67 313.06 L634.03 314.16 L634.4 318.23 L634.9 319.13 L635.4 321.05 L635.77 318.03 L636.13 317.01 L636.5 316.24 L637 319.51 L637.5 322.56 L638 314 L638.5 306.51 L638.87 304.23 L639.23 299.41 L639.6 296.73 L639.95 295.64 L640.3 295.53 L640.65 294.42 L641 292.19 L641.35 290.58 L641.7 290.38 L642.2 294.45 L642.7 298.53 L643.23 297.07 L643.75 295.21 L644.27 298.21 L644.8 305.47 L645.3 301.24 L645.8 297.2 L646.17 299.55 L646.53 301.9 L646.9 306.51 L647.4 303.3 L647.9 299.88 L648.27 299.43 L648.63 296.9 L649 295.17 L649.5 292.21 L650 288.67 L650.5 292.32 L651 298.95 L651.35 299.61 L651.7 297.98 L652.05 299.13 L652.4 299.5 L652.75 299.13 L653.1 298.64 L653.45 297.9 L653.8 298.32 L654.15 297.56 L654.5 295.83 L654.85 293.99 L655.2 295 L655.73 298.56 L656.25 300.81 L656.77 296.96 L657.3 293.03 L657.8 298.25 L658.3 302.56 L658.67 304.87 L659.03 307.6 L659.4 308.99 L659.9 310.05 L660.4 311.07 L660.77 313.46 L661.13 313.61 L661.5 315.17 L662 304.35 L662.5 294.24 L663 286.49 L663.5 279.42 L663.87 283.29 L664.23 283.07 L664.6 283.78 L665.1 279.95 L665.6 275.15 L665.97 275.24 L666.33 278.12 L666.7 279.2 L667.2 283.3 L667.7 285.65 L668.23 283.09 L668.75 282.98 L669.27 286.8 L669.8 289.96 L670.3 285.47 L670.8 279.98 L671.17 285.49 L671.53 288.74 L671.9 294.26 L672.4 288.59 L672.9 283.53 L673.27 286.01 L673.63 286.26 L674 289" fill="none" stroke="#0000e6" stroke-width="1.9" stroke-linejoin="miter" stroke-linecap="round"/>
<line x1="576.5" y1="335.6" x2="673.6" y2="286.9" stroke="#00e600" stroke-width="1.7" stroke-dasharray="6 1.2 2 1.2"/>
</svg>
</body></html>
